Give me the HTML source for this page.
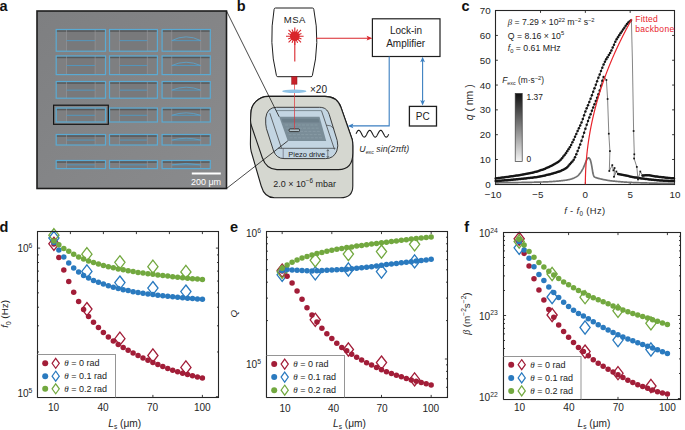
<!DOCTYPE html>
<html><head><meta charset="utf-8"><style>
html,body{margin:0;padding:0;background:#fff;}
svg{display:block;font-family:"Liberation Sans", sans-serif;}
</style></head><body>
<svg width="685" height="430" viewBox="0 0 685 430">
<rect x="0" y="0" width="685" height="430" fill="#fff"/>
<text x="-0.60" y="10.50" font-size="14.5" text-anchor="start" font-weight="bold" font-style="normal" fill="#111" >a</text>
<text x="236.80" y="10.60" font-size="14.5" text-anchor="start" font-weight="bold" font-style="normal" fill="#111" >b</text>
<text x="461.40" y="10.70" font-size="14.5" text-anchor="start" font-weight="bold" font-style="normal" fill="#111" >c</text>
<text x="-0.60" y="231.60" font-size="14.5" text-anchor="start" font-weight="bold" font-style="normal" fill="#111" >d</text>
<text x="230.00" y="231.60" font-size="14.5" text-anchor="start" font-weight="bold" font-style="normal" fill="#111" >e</text>
<text x="464.20" y="231.60" font-size="14.5" text-anchor="start" font-weight="bold" font-style="normal" fill="#111" >f</text>
<defs><linearGradient id="micg" x1="0" y1="0" x2="1" y2="1"><stop offset="0" stop-color="#7e7f81"/><stop offset="0.5" stop-color="#848587"/><stop offset="1" stop-color="#8a8b8d"/></linearGradient><linearGradient id="cbar" x1="0" y1="0" x2="0" y2="1"><stop offset="0" stop-color="#111"/><stop offset="1" stop-color="#f4f4f4"/></linearGradient></defs>
<rect x="37" y="11" width="189.5" height="177.5" fill="url(#micg)" stroke="#1c1c1c" stroke-width="1.6"/>
<rect x="56.2" y="29.5" width="49.3" height="21.7" fill="#7e7f81"/>
<rect x="66.6" y="29.5" width="28.6" height="21.7" fill="#78797b"/>
<rect x="56.2" y="30.2" width="49.3" height="1.6" fill="#4c4d4f" opacity="0.75"/>
<line x1="66.55" y1="29.50" x2="66.55" y2="51.20" stroke="#9a9b9d" stroke-width="0.6" />
<line x1="95.15" y1="29.50" x2="95.15" y2="51.20" stroke="#9a9b9d" stroke-width="0.6" />
<line x1="66.55" y1="40.65" x2="95.15" y2="40.65" stroke="#4f9ac4" stroke-width="0.9" />
<rect x="56.2" y="29.5" width="49.3" height="21.7" fill="none" stroke="#5aaad3" stroke-width="1.2"/>
<rect x="109.5" y="29.5" width="47.9" height="21.7" fill="#7e7f81"/>
<rect x="119.6" y="29.5" width="27.8" height="21.7" fill="#78797b"/>
<rect x="109.5" y="30.2" width="47.9" height="1.6" fill="#4c4d4f" opacity="0.75"/>
<line x1="119.56" y1="29.50" x2="119.56" y2="51.20" stroke="#9a9b9d" stroke-width="0.6" />
<line x1="147.34" y1="29.50" x2="147.34" y2="51.20" stroke="#9a9b9d" stroke-width="0.6" />
<line x1="119.56" y1="40.65" x2="147.34" y2="40.65" stroke="#4f9ac4" stroke-width="0.9" />
<rect x="109.5" y="29.5" width="47.9" height="21.7" fill="none" stroke="#5aaad3" stroke-width="1.2"/>
<rect x="162.1" y="29.5" width="48.2" height="21.7" fill="#7e7f81"/>
<rect x="171.7" y="29.5" width="28.9" height="21.7" fill="#78797b"/>
<rect x="162.1" y="30.2" width="48.2" height="1.6" fill="#4c4d4f" opacity="0.75"/>
<line x1="171.74" y1="29.50" x2="171.74" y2="51.20" stroke="#9a9b9d" stroke-width="0.6" />
<line x1="200.66" y1="29.50" x2="200.66" y2="51.20" stroke="#9a9b9d" stroke-width="0.6" />
<line x1="171.74" y1="40.65" x2="200.66" y2="40.65" stroke="#4f9ac4" stroke-width="0.9" />
<path d="M171.7,40.6 Q186.2,33.1 200.7,40.6" fill="none" stroke="#5aa6cf" stroke-width="0.8"/>
<rect x="162.1" y="29.5" width="48.2" height="21.7" fill="none" stroke="#5aaad3" stroke-width="1.2"/>
<rect x="56.2" y="55.9" width="49.3" height="18.7" fill="#7e7f81"/>
<rect x="66.6" y="55.9" width="28.6" height="18.7" fill="#78797b"/>
<rect x="56.2" y="56.6" width="49.3" height="1.6" fill="#4c4d4f" opacity="0.75"/>
<line x1="66.55" y1="55.90" x2="66.55" y2="74.60" stroke="#9a9b9d" stroke-width="0.6" />
<line x1="95.15" y1="55.90" x2="95.15" y2="74.60" stroke="#9a9b9d" stroke-width="0.6" />
<line x1="66.55" y1="65.55" x2="95.15" y2="65.55" stroke="#4f9ac4" stroke-width="0.9" />
<rect x="56.2" y="55.9" width="49.3" height="18.7" fill="none" stroke="#5aaad3" stroke-width="1.2"/>
<rect x="109.5" y="55.9" width="47.9" height="18.7" fill="#7e7f81"/>
<rect x="119.6" y="55.9" width="27.8" height="18.7" fill="#78797b"/>
<rect x="109.5" y="56.6" width="47.9" height="1.6" fill="#4c4d4f" opacity="0.75"/>
<line x1="119.56" y1="55.90" x2="119.56" y2="74.60" stroke="#9a9b9d" stroke-width="0.6" />
<line x1="147.34" y1="55.90" x2="147.34" y2="74.60" stroke="#9a9b9d" stroke-width="0.6" />
<line x1="119.56" y1="65.55" x2="147.34" y2="65.55" stroke="#4f9ac4" stroke-width="0.9" />
<rect x="109.5" y="55.9" width="47.9" height="18.7" fill="none" stroke="#5aaad3" stroke-width="1.2"/>
<rect x="162.1" y="55.9" width="48.2" height="18.7" fill="#7e7f81"/>
<rect x="171.7" y="55.9" width="28.9" height="18.7" fill="#78797b"/>
<rect x="162.1" y="56.6" width="48.2" height="1.6" fill="#4c4d4f" opacity="0.75"/>
<line x1="171.74" y1="55.90" x2="171.74" y2="74.60" stroke="#9a9b9d" stroke-width="0.6" />
<line x1="200.66" y1="55.90" x2="200.66" y2="74.60" stroke="#9a9b9d" stroke-width="0.6" />
<line x1="171.74" y1="65.55" x2="200.66" y2="65.55" stroke="#4f9ac4" stroke-width="0.9" />
<path d="M171.7,65.5 Q186.2,59.0 200.7,65.5" fill="none" stroke="#5aa6cf" stroke-width="0.8"/>
<rect x="162.1" y="55.9" width="48.2" height="18.7" fill="none" stroke="#5aaad3" stroke-width="1.2"/>
<rect x="56.2" y="81.5" width="49.3" height="16.7" fill="#7e7f81"/>
<rect x="66.6" y="81.5" width="28.6" height="16.7" fill="#78797b"/>
<rect x="56.2" y="82.2" width="49.3" height="1.6" fill="#4c4d4f" opacity="0.75"/>
<line x1="66.55" y1="81.50" x2="66.55" y2="98.20" stroke="#9a9b9d" stroke-width="0.6" />
<line x1="95.15" y1="81.50" x2="95.15" y2="98.20" stroke="#9a9b9d" stroke-width="0.6" />
<line x1="66.55" y1="90.15" x2="95.15" y2="90.15" stroke="#4f9ac4" stroke-width="0.9" />
<rect x="56.2" y="81.5" width="49.3" height="16.7" fill="none" stroke="#5aaad3" stroke-width="1.2"/>
<rect x="109.5" y="81.5" width="47.9" height="16.7" fill="#7e7f81"/>
<rect x="119.6" y="81.5" width="27.8" height="16.7" fill="#78797b"/>
<rect x="109.5" y="82.2" width="47.9" height="1.6" fill="#4c4d4f" opacity="0.75"/>
<line x1="119.56" y1="81.50" x2="119.56" y2="98.20" stroke="#9a9b9d" stroke-width="0.6" />
<line x1="147.34" y1="81.50" x2="147.34" y2="98.20" stroke="#9a9b9d" stroke-width="0.6" />
<line x1="119.56" y1="90.15" x2="147.34" y2="90.15" stroke="#4f9ac4" stroke-width="0.9" />
<rect x="109.5" y="81.5" width="47.9" height="16.7" fill="none" stroke="#5aaad3" stroke-width="1.2"/>
<rect x="162.1" y="81.5" width="48.2" height="16.7" fill="#7e7f81"/>
<rect x="171.7" y="81.5" width="28.9" height="16.7" fill="#78797b"/>
<rect x="162.1" y="82.2" width="48.2" height="1.6" fill="#4c4d4f" opacity="0.75"/>
<line x1="171.74" y1="81.50" x2="171.74" y2="98.20" stroke="#9a9b9d" stroke-width="0.6" />
<line x1="200.66" y1="81.50" x2="200.66" y2="98.20" stroke="#9a9b9d" stroke-width="0.6" />
<line x1="171.74" y1="90.15" x2="200.66" y2="90.15" stroke="#4f9ac4" stroke-width="0.9" />
<path d="M171.7,90.1 Q186.2,84.3 200.7,90.1" fill="none" stroke="#5aa6cf" stroke-width="0.8"/>
<rect x="162.1" y="81.5" width="48.2" height="16.7" fill="none" stroke="#5aaad3" stroke-width="1.2"/>
<rect x="56.2" y="108.0" width="49.3" height="14.0" fill="#7e7f81"/>
<rect x="66.6" y="108.0" width="28.6" height="14.0" fill="#78797b"/>
<rect x="56.2" y="108.7" width="49.3" height="1.6" fill="#4c4d4f" opacity="0.75"/>
<line x1="66.55" y1="108.00" x2="66.55" y2="122.00" stroke="#9a9b9d" stroke-width="0.6" />
<line x1="95.15" y1="108.00" x2="95.15" y2="122.00" stroke="#9a9b9d" stroke-width="0.6" />
<line x1="66.55" y1="115.30" x2="95.15" y2="115.30" stroke="#4f9ac4" stroke-width="0.9" />
<rect x="56.2" y="108.0" width="49.3" height="14.0" fill="none" stroke="#5aaad3" stroke-width="1.2"/>
<rect x="109.5" y="108.0" width="47.9" height="14.0" fill="#7e7f81"/>
<rect x="119.6" y="108.0" width="27.8" height="14.0" fill="#78797b"/>
<rect x="109.5" y="108.7" width="47.9" height="1.6" fill="#4c4d4f" opacity="0.75"/>
<line x1="119.56" y1="108.00" x2="119.56" y2="122.00" stroke="#9a9b9d" stroke-width="0.6" />
<line x1="147.34" y1="108.00" x2="147.34" y2="122.00" stroke="#9a9b9d" stroke-width="0.6" />
<line x1="119.56" y1="115.30" x2="147.34" y2="115.30" stroke="#4f9ac4" stroke-width="0.9" />
<rect x="109.5" y="108.0" width="47.9" height="14.0" fill="none" stroke="#5aaad3" stroke-width="1.2"/>
<rect x="162.1" y="108.0" width="48.2" height="14.0" fill="#7e7f81"/>
<rect x="171.7" y="108.0" width="28.9" height="14.0" fill="#78797b"/>
<rect x="162.1" y="108.7" width="48.2" height="1.6" fill="#4c4d4f" opacity="0.75"/>
<line x1="171.74" y1="108.00" x2="171.74" y2="122.00" stroke="#9a9b9d" stroke-width="0.6" />
<line x1="200.66" y1="108.00" x2="200.66" y2="122.00" stroke="#9a9b9d" stroke-width="0.6" />
<line x1="171.74" y1="115.30" x2="200.66" y2="115.30" stroke="#4f9ac4" stroke-width="0.9" />
<path d="M171.7,115.3 Q186.2,110.4 200.7,115.3" fill="none" stroke="#5aa6cf" stroke-width="0.8"/>
<rect x="162.1" y="108.0" width="48.2" height="14.0" fill="none" stroke="#5aaad3" stroke-width="1.2"/>
<rect x="56.2" y="134.5" width="49.3" height="10.5" fill="#7e7f81"/>
<rect x="66.6" y="134.5" width="28.6" height="10.5" fill="#78797b"/>
<rect x="56.2" y="135.2" width="49.3" height="1.6" fill="#4c4d4f" opacity="0.75"/>
<line x1="66.55" y1="134.50" x2="66.55" y2="145.00" stroke="#9a9b9d" stroke-width="0.6" />
<line x1="95.15" y1="134.50" x2="95.15" y2="145.00" stroke="#9a9b9d" stroke-width="0.6" />
<line x1="66.55" y1="140.05" x2="95.15" y2="140.05" stroke="#4f9ac4" stroke-width="0.9" />
<rect x="56.2" y="134.5" width="49.3" height="10.5" fill="none" stroke="#5aaad3" stroke-width="1.2"/>
<rect x="109.5" y="134.5" width="47.9" height="10.5" fill="#7e7f81"/>
<rect x="119.6" y="134.5" width="27.8" height="10.5" fill="#78797b"/>
<rect x="109.5" y="135.2" width="47.9" height="1.6" fill="#4c4d4f" opacity="0.75"/>
<line x1="119.56" y1="134.50" x2="119.56" y2="145.00" stroke="#9a9b9d" stroke-width="0.6" />
<line x1="147.34" y1="134.50" x2="147.34" y2="145.00" stroke="#9a9b9d" stroke-width="0.6" />
<line x1="119.56" y1="140.05" x2="147.34" y2="140.05" stroke="#4f9ac4" stroke-width="0.9" />
<rect x="109.5" y="134.5" width="47.9" height="10.5" fill="none" stroke="#5aaad3" stroke-width="1.2"/>
<rect x="162.1" y="134.5" width="48.2" height="10.5" fill="#7e7f81"/>
<rect x="171.7" y="134.5" width="28.9" height="10.5" fill="#78797b"/>
<rect x="162.1" y="135.2" width="48.2" height="1.6" fill="#4c4d4f" opacity="0.75"/>
<line x1="171.74" y1="134.50" x2="171.74" y2="145.00" stroke="#9a9b9d" stroke-width="0.6" />
<line x1="200.66" y1="134.50" x2="200.66" y2="145.00" stroke="#9a9b9d" stroke-width="0.6" />
<line x1="171.74" y1="140.05" x2="200.66" y2="140.05" stroke="#4f9ac4" stroke-width="0.9" />
<path d="M171.7,140.1 Q186.2,136.4 200.7,140.1" fill="none" stroke="#5aa6cf" stroke-width="0.8"/>
<rect x="162.1" y="134.5" width="48.2" height="10.5" fill="none" stroke="#5aaad3" stroke-width="1.2"/>
<rect x="56.2" y="160.5" width="49.3" height="8.1" fill="#7e7f81"/>
<rect x="66.6" y="160.5" width="28.6" height="8.1" fill="#78797b"/>
<rect x="56.2" y="161.2" width="49.3" height="1.6" fill="#4c4d4f" opacity="0.75"/>
<line x1="66.55" y1="160.50" x2="66.55" y2="168.60" stroke="#9a9b9d" stroke-width="0.6" />
<line x1="95.15" y1="160.50" x2="95.15" y2="168.60" stroke="#9a9b9d" stroke-width="0.6" />
<line x1="66.55" y1="164.85" x2="95.15" y2="164.85" stroke="#4f9ac4" stroke-width="0.9" />
<rect x="56.2" y="160.5" width="49.3" height="8.1" fill="none" stroke="#5aaad3" stroke-width="1.2"/>
<rect x="109.5" y="160.5" width="47.9" height="8.1" fill="#7e7f81"/>
<rect x="119.6" y="160.5" width="27.8" height="8.1" fill="#78797b"/>
<rect x="109.5" y="161.2" width="47.9" height="1.6" fill="#4c4d4f" opacity="0.75"/>
<line x1="119.56" y1="160.50" x2="119.56" y2="168.60" stroke="#9a9b9d" stroke-width="0.6" />
<line x1="147.34" y1="160.50" x2="147.34" y2="168.60" stroke="#9a9b9d" stroke-width="0.6" />
<line x1="119.56" y1="164.85" x2="147.34" y2="164.85" stroke="#4f9ac4" stroke-width="0.9" />
<rect x="109.5" y="160.5" width="47.9" height="8.1" fill="none" stroke="#5aaad3" stroke-width="1.2"/>
<rect x="162.1" y="160.5" width="48.2" height="8.1" fill="#7e7f81"/>
<rect x="171.7" y="160.5" width="28.9" height="8.1" fill="#78797b"/>
<rect x="162.1" y="161.2" width="48.2" height="1.6" fill="#4c4d4f" opacity="0.75"/>
<line x1="171.74" y1="160.50" x2="171.74" y2="168.60" stroke="#9a9b9d" stroke-width="0.6" />
<line x1="200.66" y1="160.50" x2="200.66" y2="168.60" stroke="#9a9b9d" stroke-width="0.6" />
<line x1="171.74" y1="164.85" x2="200.66" y2="164.85" stroke="#4f9ac4" stroke-width="0.9" />
<path d="M171.7,164.9 Q186.2,162.0 200.7,164.9" fill="none" stroke="#5aa6cf" stroke-width="0.8"/>
<rect x="162.1" y="160.5" width="48.2" height="8.1" fill="none" stroke="#5aaad3" stroke-width="1.2"/>
<rect x="53.6" y="105.2" width="54.7" height="19.1" fill="none" stroke="#151515" stroke-width="1.2"/>
<rect x="191.8" y="172.5" width="29" height="2" fill="#fff"/>
<text x="206.00" y="184.80" font-size="9" text-anchor="middle" font-weight="normal" font-style="normal" fill="#fff" >200 &#956;m</text>
<path d="M268.3,96.4 L324.8,96.4 C331.5,96.4 338.2,99.5 341,107.5 L352.2,139.5 Q352.8,142 352.8,146 L352.8,186 Q352.8,197.8 340.5,197.8 L274.5,197.8 Q264.5,197.8 261.2,186 L251.2,151.5 Q250.4,148.5 250.4,144 L250.9,113.5 C250.9,104.2 258.8,96.4 268.3,96.4 Z" fill="#d5d7d0" stroke="#1e1e1e" stroke-width="1.1"/>
<path d="M268.3,96.4 L324.8,96.4 C331.5,96.4 338.2,99.5 341,107.5 L352.2,139.5 Q352.8,142 352.8,146 L352.8,153 Q352.8,169.6 338.5,169.6 L277,169.6 Q266.5,169.6 262.3,157.8 L251.5,126 Q250.6,123.5 250.5,120 L250.9,113.5 C250.9,104.2 258.8,96.4 268.3,96.4 Z" fill="#d5d7d0" stroke="#1e1e1e" stroke-width="1.1"/>
<path d="M276.5,107.3 L319.5,107.3 C324.5,107.3 327.5,109.5 329.2,114.4 L337.2,140.5 Q338.6,146 336.8,151 Q333.8,158.6 325.5,158.6 L284,158.6 Q276.5,158.6 273.6,151 L266.4,128.5 Q265.4,124.5 265.7,118 Q267,107.3 276.5,107.3 Z" fill="#c3d5e2" stroke="#2a2a2a" stroke-width="0.9"/>
<line x1="276.00" y1="110.60" x2="321.50" y2="110.60" stroke="#5d6a72" stroke-width="0.7" />
<line x1="269.80" y1="113.20" x2="281.50" y2="148.30" stroke="#333" stroke-width="0.7" />
<line x1="321.50" y1="110.80" x2="334.50" y2="149.50" stroke="#333" stroke-width="0.7" />
<path d="M279.2,116.8 L319.5,116.8 L326.2,140.9 L287.8,140.9 Z" fill="#7a8d98"/>
<path d="M281.5,118.8 L318.5,118.8 L319.6,122.5 L282.8,122.5 Z" fill="#6c7f8a"/>
<line x1="285.13" y1="125.00" x2="318.78" y2="125.00" stroke="#8fa1ab" stroke-width="0.6" stroke-dasharray="3,1.2"/>
<line x1="286.27" y1="128.20" x2="319.67" y2="128.20" stroke="#8fa1ab" stroke-width="0.6" stroke-dasharray="3,1.2"/>
<line x1="287.41" y1="131.40" x2="320.56" y2="131.40" stroke="#8fa1ab" stroke-width="0.6" stroke-dasharray="3,1.2"/>
<line x1="288.55" y1="134.60" x2="321.45" y2="134.60" stroke="#8fa1ab" stroke-width="0.6" stroke-dasharray="3,1.2"/>
<line x1="289.69" y1="137.80" x2="322.34" y2="137.80" stroke="#8fa1ab" stroke-width="0.6" stroke-dasharray="3,1.2"/>
<line x1="278.20" y1="148.30" x2="335.50" y2="148.30" stroke="#333" stroke-width="0.7" />
<line x1="283.20" y1="148.30" x2="283.20" y2="158.40" stroke="#556" stroke-width="0.6" />
<text x="306.70" y="156.60" font-size="7.45" text-anchor="middle" font-weight="normal" font-style="normal" fill="#222" >Piezo drive</text>
<line x1="327.80" y1="149.80" x2="327.80" y2="157.40" stroke="#333" stroke-width="0.55" />
<path d="M326.6,151.2 L327.8,149.6 L329,151.2 M326.6,156 L327.8,157.6 L329,156" fill="none" stroke="#333" stroke-width="0.55"/>
<path d="M326.5,125.2 Q331,124.8 334.2,128.8" fill="none" stroke="#333" stroke-width="0.6"/>
<rect x="289.1" y="128.9" width="10.4" height="2.7" rx="1" fill="#b2c2ca" stroke="#1e1e1e" stroke-width="0.8"/>
<line x1="294.50" y1="84.20" x2="294.50" y2="129.20" stroke="#e0343a" stroke-width="0.7" />
<line x1="226.50" y1="11.00" x2="279.20" y2="116.80" stroke="#1a1a1a" stroke-width="0.8" />
<line x1="226.50" y1="188.50" x2="287.80" y2="140.90" stroke="#1a1a1a" stroke-width="0.8" />
<ellipse cx="294.3" cy="91.3" rx="12.2" ry="1.7" fill="#8fc3e6"/>
<text x="309.90" y="93.30" font-size="10.1" text-anchor="start" font-weight="normal" font-style="normal" fill="#222" >&#215;20</text>
<text x="304.60" y="186.50" font-size="8.95" text-anchor="middle" font-weight="normal" font-style="normal" fill="#222" >2.0 &#215; 10<tspan dy="-3.5" font-size="6.3">&#8722;6</tspan><tspan dy="3.5"> mbar</tspan></text>
<path d="M275.5,8 L312.4,8 Q313.6,8 313.8,9.3 Q320.5,42.5 312.4,75.4 Q312.2,76.7 311,76.7 L277.8,76.7 Q276.6,76.7 276.4,75.4 Q268.5,42.5 274.1,9.3 Q274.3,8 275.5,8 Z" fill="#fff" stroke="#1e1e1e" stroke-width="1"/>
<text x="294.80" y="23.20" font-size="9.6" text-anchor="middle" font-weight="normal" font-style="normal" fill="#222" letter-spacing="0.5">MSA</text>
<path d="M298.00,36.20 L303.60,36.20 M297.76,37.42 L301.45,38.96 M297.06,38.46 L301.02,42.42 M296.02,39.16 L297.56,42.85 M294.80,39.40 L294.80,45.00 M293.58,39.16 L292.04,42.85 M292.54,38.46 L288.58,42.42 M291.84,37.42 L288.15,38.96 M291.60,36.20 L286.00,36.20 M291.84,34.98 L288.15,33.44 M292.54,33.94 L288.58,29.98 M293.58,33.24 L292.04,29.55 M294.80,33.00 L294.80,27.40 M296.02,33.24 L297.56,29.55 M297.06,33.94 L301.02,29.98 M297.76,34.98 L301.45,33.44" stroke="#d9252b" stroke-width="1.1" fill="none"/>
<circle cx="294.8" cy="36.2" r="4.8" fill="#d9252b"/>
<line x1="294.80" y1="36.20" x2="294.80" y2="61.60" stroke="#d9252b" stroke-width="1.1" />
<rect x="291.7" y="76.7" width="5.3" height="7.5" fill="#c8222b" stroke="#8a1015" stroke-width="0.5"/>
<line x1="316.20" y1="38.20" x2="368.50" y2="38.20" stroke="#d9252b" stroke-width="1.1" />
<path d="M372.4,38.2 L366.6,35.8 L367.8,38.2 L366.6,40.6 Z" fill="#d9252b"/>
<rect x="372.4" y="18.8" width="67.6" height="37.7" fill="#fff" stroke="#1e1e1e" stroke-width="1.2"/>
<text x="406.00" y="33.90" font-size="10" text-anchor="middle" font-weight="normal" font-style="normal" fill="#222" >Lock-in</text>
<text x="405.60" y="46.90" font-size="10" text-anchor="middle" font-weight="normal" font-style="normal" fill="#222" >Amplifier</text>
<rect x="409.4" y="106.4" width="27.1" height="19.6" fill="#fff" stroke="#1e1e1e" stroke-width="1.3"/>
<text x="422.70" y="120.00" font-size="10" text-anchor="middle" font-weight="normal" font-style="normal" fill="#222" >PC</text>
<path d="M389.2,56.5 L389.2,125.9 L351.5,125.9" fill="none" stroke="#3b7fc1" stroke-width="1.1"/>
<path d="M347.6,125.9 L353.4,123.5 L352.2,125.9 L353.4,128.3 Z" fill="#3b7fc1"/>
<line x1="422.60" y1="60.50" x2="422.60" y2="101.80" stroke="#3b7fc1" stroke-width="1.1" />
<path d="M422.6,56.7 L420.2,62.3 L422.6,61.1 L425,62.3 Z M422.6,105.6 L420.2,100 L422.6,101.2 L425,100 Z" fill="#3b7fc1"/>
<polyline points="356.00,133.70 356.27,133.17 356.55,132.66 356.82,132.17 357.09,131.72 357.36,131.31 357.63,130.97 357.91,130.69 358.18,130.48 358.45,130.35 358.73,130.30 359.00,130.33 359.27,130.45 359.54,130.64 359.81,130.91 360.09,131.24 360.36,131.64 360.63,132.08 360.90,132.57 361.18,133.08 361.45,133.60 361.72,134.13 362.00,134.65 362.27,135.14 362.54,135.60 362.81,136.02 363.08,136.37 363.36,136.67 363.63,136.89 363.90,137.03 364.18,137.10 364.45,137.08 364.72,136.98 364.99,136.80 365.26,136.54 365.54,136.22 365.81,135.84 366.08,135.40 366.36,134.92 366.63,134.42 366.90,133.89 367.17,133.37 367.44,132.85 367.72,132.35 367.99,131.88 368.26,131.46 368.53,131.09 368.81,130.78 369.08,130.55 369.35,130.39 369.62,130.31 369.90,130.31 370.17,130.40 370.44,130.56 370.71,130.80 370.99,131.11 371.26,131.49 371.53,131.92 371.81,132.39 372.08,132.89 372.35,133.41 372.62,133.94 372.89,134.46 373.17,134.97 373.44,135.44 373.71,135.87 373.99,136.25 374.26,136.57 374.53,136.82 374.80,136.99 375.07,137.08 375.35,137.09 375.62,137.02 375.89,136.87 376.17,136.65 376.44,136.35 376.71,135.98 376.98,135.57 377.25,135.10 377.53,134.61 377.80,134.09 378.07,133.56 378.34,133.03 378.62,132.53 378.89,132.05 379.16,131.60 379.44,131.21 379.71,130.89 379.98,130.62 380.25,130.44 380.52,130.33 380.80,130.30 381.07,130.36 381.34,130.49 381.62,130.71 381.89,130.99 382.16,131.34 382.43,131.75 382.70,132.21 382.98,132.70 383.25,133.22 383.52,133.74 383.80,134.27 384.07,134.78 384.34,135.27 384.61,135.72 384.88,136.12 385.16,136.46 385.43,136.73 385.70,136.94 385.97,137.06 386.25,137.10 386.52,137.06 386.79,136.94 387.06,136.74 387.34,136.46 387.61,136.12 387.88,135.73 388.15,135.28 388.43,134.79 388.70,134.28" fill="none" stroke="#1a1a1a" stroke-width="1.1"/>
<text x="359.30" y="152.30" font-size="8.8" text-anchor="start" font-weight="normal" font-style="italic" fill="#2a2a2a" >U<tspan font-size="5.3" dy="2">exc</tspan><tspan dy="-2"> sin(2&#960;ft)</tspan></text>
<rect x="495.5" y="10.5" width="179.00" height="174.00" fill="none" stroke="#262626" stroke-width="1.1"/>
<path d="M495.5,159.49 h2.4 M674.5,159.49 h-2.4 M495.5,134.68 h2.4 M674.5,134.68 h-2.4 M495.5,109.87 h2.4 M674.5,109.87 h-2.4 M495.5,85.06 h2.4 M674.5,85.06 h-2.4 M495.5,60.25 h2.4 M674.5,60.25 h-2.4 M495.5,35.44 h2.4 M674.5,35.44 h-2.4 M540.52,184.5 v-2.4 M540.52,10.5 v2.4 M585.35,184.5 v-2.4 M585.35,10.5 v2.4 M630.18,184.5 v-2.4 M630.18,10.5 v2.4" stroke="#262626" stroke-width="0.9" fill="none"/>
<text x="490.60" y="187.80" font-size="9.8" text-anchor="end" font-weight="normal" font-style="normal" fill="#262626" >0</text>
<text x="490.60" y="162.99" font-size="9.8" text-anchor="end" font-weight="normal" font-style="normal" fill="#262626" >10</text>
<text x="490.60" y="138.18" font-size="9.8" text-anchor="end" font-weight="normal" font-style="normal" fill="#262626" >20</text>
<text x="490.60" y="113.37" font-size="9.8" text-anchor="end" font-weight="normal" font-style="normal" fill="#262626" >30</text>
<text x="490.60" y="88.56" font-size="9.8" text-anchor="end" font-weight="normal" font-style="normal" fill="#262626" >40</text>
<text x="490.60" y="63.75" font-size="9.8" text-anchor="end" font-weight="normal" font-style="normal" fill="#262626" >50</text>
<text x="490.60" y="38.94" font-size="9.8" text-anchor="end" font-weight="normal" font-style="normal" fill="#262626" >60</text>
<text x="490.60" y="14.13" font-size="9.8" text-anchor="end" font-weight="normal" font-style="normal" fill="#262626" >70</text>
<text x="493.10" y="198.30" font-size="9.8" text-anchor="middle" font-weight="normal" font-style="normal" fill="#262626" >&#8722;10</text>
<text x="537.92" y="198.30" font-size="9.8" text-anchor="middle" font-weight="normal" font-style="normal" fill="#262626" >&#8722;5</text>
<text x="585.35" y="198.30" font-size="9.8" text-anchor="middle" font-weight="normal" font-style="normal" fill="#262626" >0</text>
<text x="630.18" y="198.30" font-size="9.8" text-anchor="middle" font-weight="normal" font-style="normal" fill="#262626" >5</text>
<text x="675.00" y="198.30" font-size="9.8" text-anchor="middle" font-weight="normal" font-style="normal" fill="#262626" >10</text>
<text x="584.80" y="214.20" font-size="9.4" text-anchor="middle" font-weight="normal" font-style="normal" fill="#262626" letter-spacing="0.35"><tspan font-style="italic">f</tspan> - <tspan font-style="italic">f</tspan><tspan font-size="6.3" dy="2">0</tspan><tspan dy="-2"> (Hz)</tspan></text>
<text x="0.00" y="0.00" font-size="10.4" text-anchor="middle" font-weight="normal" font-style="normal" fill="#262626" transform="translate(472.6,102.3) rotate(-90)"><tspan font-style="italic">q</tspan> ( nm )</text>
<polyline points="495.70,182.80 496.15,182.80 496.60,182.79 497.04,182.79 497.49,182.79 497.94,182.78 498.39,182.78 498.83,182.78 499.28,182.77 499.73,182.77 500.18,182.77 500.62,182.76 501.07,182.76 501.52,182.75 501.97,182.75 502.41,182.74 502.86,182.74 503.31,182.73 503.76,182.73 504.20,182.72 504.65,182.72 505.10,182.71 505.55,182.71 506.00,182.70 506.44,182.70 506.89,182.69 507.34,182.69 507.79,182.68 508.23,182.68 508.68,182.67 509.13,182.66 509.58,182.66 510.02,182.65 510.47,182.65 510.92,182.64 511.37,182.63 511.81,182.63 512.26,182.62 512.71,182.61 513.16,182.61 513.60,182.60 514.05,182.59 514.50,182.59 514.95,182.58 515.40,182.57 515.84,182.57 516.29,182.56 516.74,182.55 517.19,182.55 517.63,182.54 518.08,182.53 518.53,182.52 518.98,182.52 519.42,182.51 519.87,182.50 520.32,182.49 520.77,182.49 521.21,182.48 521.66,182.47 522.11,182.46 522.56,182.46 523.00,182.45 523.45,182.44 523.90,182.43 524.35,182.43 524.80,182.42 525.24,182.41 525.69,182.40 526.14,182.39 526.59,182.38 527.03,182.38 527.48,182.37 527.93,182.36 528.38,182.35 528.82,182.34 529.27,182.33 529.72,182.32 530.17,182.31 530.61,182.30 531.06,182.29 531.51,182.29 531.96,182.28 532.40,182.27 532.85,182.25 533.30,182.24 533.75,182.23 534.20,182.22 534.64,182.21 535.09,182.20 535.54,182.19 535.99,182.18 536.43,182.17 536.88,182.16 537.33,182.14 537.78,182.13 538.22,182.12 538.67,182.11 539.12,182.09 539.57,182.08 540.01,182.07 540.46,182.05 540.91,182.04 541.36,182.02 541.80,182.01 542.25,182.00 542.70,181.98 543.15,181.97 543.60,181.95 544.04,181.93 544.49,181.92 544.94,181.90 545.39,181.89 545.83,181.87 546.28,181.85 546.73,181.83 547.18,181.82 547.62,181.80 548.07,181.78 548.52,181.76 548.97,181.74 549.41,181.72 549.86,181.69 550.31,181.67 550.76,181.64 551.20,181.61 551.65,181.58 552.10,181.55 552.55,181.52 553.00,181.49 553.44,181.45 553.89,181.42 554.34,181.38 554.79,181.35 555.23,181.31 555.68,181.27 556.13,181.23 556.58,181.19 557.02,181.15 557.47,181.11 557.92,181.07 558.37,181.03 558.81,180.99 559.26,180.94 559.71,180.90 560.16,180.85 560.60,180.81 561.05,180.76 561.50,180.72 561.95,180.67 562.40,180.62 562.84,180.57 563.29,180.52 563.74,180.46 564.19,180.40 564.63,180.34 565.08,180.28 565.53,180.22 565.98,180.15 566.42,180.08 566.87,180.00 567.32,179.92 567.77,179.84 568.21,179.76 568.66,179.67 569.11,179.57 569.56,179.46 570.00,179.35 570.45,179.23 570.90,179.10 571.35,178.96 571.80,178.82 572.24,178.67 572.69,178.52 573.14,178.35 573.59,178.18 574.03,178.01 574.48,177.81 574.93,177.60 575.38,177.37 575.82,177.12 576.27,176.85 576.72,176.56 577.17,176.25 577.61,175.91 578.06,175.53 578.51,175.09 578.96,174.60 579.40,174.07 579.85,173.51 580.30,172.93 580.75,172.32 581.20,171.65 581.64,170.94 582.09,170.17 582.54,169.37 582.99,168.53 583.43,167.62 583.88,166.62 584.33,165.56 584.78,164.49 585.22,163.44 585.67,162.32 586.12,161.14 586.57,160.08 587.01,159.28 587.46,158.65 587.91,158.12 588.36,157.82 588.80,157.87 589.25,158.19 589.70,158.68 590.15,159.46 590.60,160.80 591.04,162.46 591.49,164.68 591.94,167.16 592.39,169.95 592.83,172.76 593.28,174.48 593.73,175.81 594.18,176.67 594.62,177.03 595.07,177.26 595.52,177.43 595.97,177.59 596.41,177.76 596.86,177.92 597.31,178.07 597.76,178.21 598.20,178.33 598.65,178.44 599.10,178.56 599.55,178.67 600.00,178.78 600.44,178.89 600.89,178.99 601.34,179.10 601.79,179.20 602.23,179.30 602.68,179.40 603.13,179.49 603.58,179.59 604.02,179.68 604.47,179.77 604.92,179.86 605.37,179.94 605.81,180.03 606.26,180.11 606.71,180.19 607.16,180.26 607.60,180.34 608.05,180.41 608.50,180.48 608.95,180.55 609.40,180.61 609.84,180.67 610.29,180.73 610.74,180.79 611.19,180.84 611.63,180.89 612.08,180.94 612.53,180.99 612.98,181.04 613.42,181.09 613.87,181.13 614.32,181.18 614.77,181.22 615.21,181.27 615.66,181.31 616.11,181.36 616.56,181.40 617.00,181.44 617.45,181.48 617.90,181.52 618.35,181.56 618.80,181.60 619.24,181.64 619.69,181.68 620.14,181.72 620.59,181.76 621.03,181.79 621.48,181.83 621.93,181.86 622.38,181.90 622.82,181.93 623.27,181.97 623.72,182.00 624.17,182.03 624.61,182.06 625.06,182.09 625.51,182.12 625.96,182.15 626.40,182.18 626.85,182.21 627.30,182.24 627.75,182.26 628.20,182.29 628.64,182.32 629.09,182.34 629.54,182.36 629.99,182.39 630.43,182.41 630.88,182.43 631.33,182.45 631.78,182.47 632.22,182.49 632.67,182.51 633.12,182.53 633.57,182.55 634.01,182.57 634.46,182.58 634.91,182.60 635.36,182.61 635.80,182.63 636.25,182.64 636.70,182.66 637.15,182.67 637.60,182.69 638.04,182.70 638.49,182.71 638.94,182.73 639.39,182.74 639.83,182.76 640.28,182.77 640.73,182.79 641.18,182.80 641.62,182.81 642.07,182.83 642.52,182.84 642.97,182.85 643.41,182.87 643.86,182.88 644.31,182.89 644.76,182.91 645.20,182.92 645.65,182.93 646.10,182.95 646.55,182.96 647.00,182.97 647.44,182.98 647.89,183.00 648.34,183.01 648.79,183.02 649.23,183.03 649.68,183.04 650.13,183.06 650.58,183.07 651.02,183.08 651.47,183.09 651.92,183.10 652.37,183.11 652.81,183.12 653.26,183.13 653.71,183.14 654.16,183.15 654.60,183.16 655.05,183.17 655.50,183.18 655.95,183.19 656.40,183.20 656.84,183.21 657.29,183.22 657.74,183.23 658.19,183.24 658.63,183.25 659.08,183.25 659.53,183.26 659.98,183.27 660.42,183.28 660.87,183.28 661.32,183.29 661.77,183.30 662.21,183.31 662.66,183.31 663.11,183.32 663.56,183.32 664.00,183.33 664.45,183.34 664.90,183.34 665.35,183.35 665.80,183.35 666.24,183.36 666.69,183.36 667.14,183.37 667.59,183.37 668.03,183.37 668.48,183.38 668.93,183.38 669.38,183.38 669.82,183.39 670.27,183.39 670.72,183.39 671.17,183.39 671.61,183.40 672.06,183.40 672.51,183.40 672.96,183.40 673.40,183.40 673.85,183.40 674.30,183.40" fill="none" stroke="#727272" stroke-width="1.7"/>
<polyline points="495.70,181.00 495.97,180.98 496.24,180.97 496.51,180.95 496.78,180.93 497.05,180.92 497.32,180.90 497.59,180.88 497.86,180.86 498.13,180.85 498.40,180.83 498.67,180.81 498.95,180.79 499.22,180.78 499.49,180.76 499.76,180.74 500.03,180.72 500.30,180.70 500.57,180.68 500.84,180.66 501.11,180.64 501.38,180.62 501.65,180.60 501.92,180.58 502.19,180.57 502.46,180.55 502.73,180.52 503.00,180.50 503.27,180.48 503.54,180.46 503.81,180.44 504.08,180.42 504.35,180.40 504.62,180.38 504.89,180.36 505.16,180.34 505.44,180.32 505.71,180.30 505.98,180.27 506.25,180.25 506.52,180.23 506.79,180.21 507.06,180.19 507.33,180.16 507.60,180.14 507.87,180.12 508.14,180.10 508.41,180.07 508.68,180.05 508.95,180.03 509.22,180.00 509.49,179.98 509.76,179.96 510.03,179.93 510.30,179.91 510.57,179.88 510.84,179.86 511.11,179.83 511.38,179.81 511.66,179.78 511.93,179.76 512.20,179.73 512.47,179.70 512.74,179.68 513.01,179.65 513.28,179.62 513.55,179.60 513.82,179.57 514.09,179.54 514.36,179.52 514.63,179.49 514.90,179.46 515.17,179.43 515.44,179.41 515.71,179.38 515.98,179.35 516.25,179.32 516.52,179.29 516.79,179.27 517.06,179.24 517.33,179.21 517.60,179.18 517.87,179.15 518.15,179.13 518.42,179.10 518.69,179.07 518.96,179.04 519.23,179.01 519.50,178.99 519.77,178.96 520.04,178.93 520.31,178.90 520.58,178.87 520.85,178.85 521.12,178.82 521.39,178.79 521.66,178.76 521.93,178.74 522.20,178.71 522.47,178.68 522.74,178.66 523.01,178.63 523.28,178.60 523.55,178.58 523.82,178.55 524.09,178.52 524.37,178.50 524.64,178.47 524.91,178.45 525.18,178.42 525.45,178.39 525.72,178.37 525.99,178.34 526.26,178.32 526.53,178.29 526.80,178.26 527.07,178.24 527.34,178.21 527.61,178.18 527.88,178.16 528.15,178.13 528.42,178.10 528.69,178.07 528.96,178.05 529.23,178.02 529.50,177.99 529.77,177.96 530.04,177.93 530.31,177.90 530.58,177.87 530.86,177.84 531.13,177.81 531.40,177.78 531.67,177.75 531.94,177.72 532.21,177.68 532.48,177.65 532.75,177.62 533.02,177.58 533.29,177.55 533.56,177.51 533.83,177.48 534.10,177.44 534.37,177.40 534.64,177.37 534.91,177.33 535.18,177.29 535.45,177.25 535.72,177.21 535.99,177.16 536.26,177.12 536.53,177.08 536.80,177.03 537.08,176.99 537.35,176.94 537.62,176.90 537.89,176.85 538.16,176.80 538.43,176.75 538.70,176.71 538.97,176.66 539.24,176.61 539.51,176.55 539.78,176.50 540.05,176.45 540.32,176.40 540.59,176.34 540.86,176.29 541.13,176.24 541.40,176.18 541.67,176.13 541.94,176.07 542.21,176.01 542.48,175.96 542.75,175.90 543.02,175.84 543.29,175.78 543.57,175.72 543.84,175.66 544.11,175.60 544.38,175.54 544.65,175.48 544.92,175.42 545.19,175.36 545.46,175.30 545.73,175.24 546.00,175.17 546.27,175.11 546.54,175.05 546.81,174.99 547.08,174.92 547.35,174.86 547.62,174.79 547.89,174.73 548.16,174.67 548.43,174.60 548.70,174.54 548.97,174.47 549.24,174.40 549.51,174.34 549.79,174.27 550.06,174.20 550.33,174.13 550.60,174.06 550.87,174.00 551.14,173.93 551.41,173.86 551.68,173.78 551.95,173.71 552.22,173.64 552.49,173.57 552.76,173.49 553.03,173.42 553.30,173.34 553.57,173.27 553.84,173.19 554.11,173.11 554.38,173.03 554.65,172.95 554.92,172.87 555.19,172.79 555.46,172.71 555.73,172.63 556.01,172.54 556.28,172.46 556.55,172.37 556.82,172.28 557.09,172.19 557.36,172.11 557.63,172.01 557.90,171.92 558.17,171.83 558.44,171.74 558.71,171.64 558.98,171.54 559.25,171.45 559.52,171.35 559.79,171.25 560.06,171.15 560.33,171.04 560.60,170.94 560.87,170.83 561.14,170.72 561.41,170.62 561.68,170.50 561.95,170.39 562.22,170.27 562.50,170.15 562.77,170.03 563.04,169.90 563.31,169.77 563.58,169.64 563.85,169.50 564.12,169.35 564.39,169.20 564.66,169.05 564.93,168.89 565.20,168.72 565.47,168.55 565.74,168.38 566.01,168.19 566.28,167.99 566.55,167.78 566.82,167.54 567.09,167.29 567.36,167.03 567.63,166.75 567.90,166.47 568.17,166.17 568.44,165.87 568.72,165.56 568.99,165.25 569.26,164.93 569.53,164.62 569.80,164.30 570.07,163.99 570.34,163.68 570.61,163.38 570.88,163.09 571.15,162.80 571.42,162.51 571.69,162.23 571.96,161.94 572.23,161.64 572.50,161.33 572.77,161.01 573.04,160.67 573.31,160.31 573.58,159.93 573.85,159.52 574.12,159.06 574.39,158.56 574.66,158.01 574.93,157.43 575.21,156.82 575.48,156.19 575.75,155.54 576.02,154.89 576.29,154.24 576.56,153.60 576.83,152.96 577.10,152.32 577.37,151.67 577.64,151.01 577.91,150.34 578.18,149.67 578.45,148.98 578.72,148.29 578.99,147.59 579.26,146.89 579.53,146.17 579.80,145.45 580.07,144.72 580.34,143.98 580.61,143.24 580.88,142.48 581.15,141.71 581.43,140.92 581.70,140.12 581.97,139.30 582.24,138.48 582.51,137.64 582.78,136.81 583.05,135.97 583.32,135.12 583.59,134.29 583.86,133.45 584.13,132.62 584.40,131.80 584.67,130.99 584.94,130.17 585.21,129.35 585.48,128.53 585.75,127.71 586.02,126.89 586.29,126.07 586.56,125.26 586.83,124.45 587.10,123.65 587.37,122.86 587.64,122.07 587.92,121.30 588.19,120.54 588.46,119.79 588.73,119.05 589.00,118.32 589.27,117.60 589.54,116.89 589.81,116.18 590.08,115.47 590.35,114.78 590.62,114.08 590.89,113.39 591.16,112.69 591.43,112.00 591.70,111.31 591.97,110.62 592.24,109.93 592.51,109.25 592.78,108.57 593.05,107.90 593.32,107.23 593.59,106.57 593.86,105.91 594.14,105.24 594.41,104.58 594.68,103.91 594.95,103.24 595.22,102.57 595.49,101.89 595.76,101.20 596.03,100.50 596.30,99.80 596.57,99.08 596.84,98.36 597.11,97.65 597.38,96.94 597.65,96.22 597.92,95.50 598.19,94.77 598.46,94.04 598.73,93.29 599.00,92.52 599.27,91.73 599.54,90.92 599.81,90.08 600.08,89.21 600.35,88.31 600.63,87.32 600.90,86.23 601.17,85.09 601.44,83.94 601.71,82.82 601.98,81.78 602.25,80.84 602.52,79.98 602.79,79.17 603.06,78.40 603.33,77.67 603.60,77.00" fill="none" stroke="#151515" stroke-width="0.7"/>
<g fill="#151515"><circle cx="495.70" cy="181.00" r="1.25"/><circle cx="497.00" cy="180.92" r="1.25"/><circle cx="498.30" cy="180.84" r="1.25"/><circle cx="499.60" cy="180.75" r="1.25"/><circle cx="500.90" cy="180.66" r="1.25"/><circle cx="502.20" cy="180.56" r="1.25"/><circle cx="503.50" cy="180.47" r="1.25"/><circle cx="504.80" cy="180.37" r="1.25"/><circle cx="506.10" cy="180.26" r="1.25"/><circle cx="507.40" cy="180.16" r="1.25"/><circle cx="508.70" cy="180.05" r="1.25"/><circle cx="510.00" cy="179.93" r="1.25"/><circle cx="511.30" cy="179.81" r="1.25"/><circle cx="512.60" cy="179.69" r="1.25"/><circle cx="513.90" cy="179.56" r="1.25"/><circle cx="515.20" cy="179.43" r="1.25"/><circle cx="516.50" cy="179.30" r="1.25"/><circle cx="517.80" cy="179.16" r="1.25"/><circle cx="519.10" cy="179.03" r="1.25"/><circle cx="520.40" cy="178.89" r="1.25"/><circle cx="521.70" cy="178.76" r="1.25"/><circle cx="523.00" cy="178.63" r="1.25"/><circle cx="524.30" cy="178.50" r="1.25"/><circle cx="525.60" cy="178.38" r="1.25"/><circle cx="526.90" cy="178.25" r="1.25"/><circle cx="528.20" cy="178.12" r="1.25"/><circle cx="529.50" cy="177.99" r="1.25"/><circle cx="530.80" cy="177.85" r="1.25"/><circle cx="532.10" cy="177.70" r="1.25"/><circle cx="533.40" cy="177.53" r="1.25"/><circle cx="534.70" cy="177.36" r="1.25"/><circle cx="536.00" cy="177.16" r="1.25"/><circle cx="537.30" cy="176.95" r="1.25"/><circle cx="538.60" cy="176.72" r="1.25"/><circle cx="539.90" cy="176.48" r="1.25"/><circle cx="541.20" cy="176.22" r="1.25"/><circle cx="542.50" cy="175.95" r="1.25"/><circle cx="543.80" cy="175.67" r="1.25"/><circle cx="545.10" cy="175.38" r="1.25"/><circle cx="546.40" cy="175.08" r="1.25"/><circle cx="547.70" cy="174.78" r="1.25"/><circle cx="549.00" cy="174.46" r="1.25"/><circle cx="550.30" cy="174.14" r="1.25"/><circle cx="551.60" cy="173.80" r="1.25"/><circle cx="552.90" cy="173.45" r="1.25"/><circle cx="554.20" cy="173.09" r="1.25"/><circle cx="555.50" cy="172.70" r="1.25"/><circle cx="556.80" cy="172.29" r="1.25"/><circle cx="558.10" cy="171.85" r="1.25"/><circle cx="559.40" cy="171.39" r="1.25"/><circle cx="560.70" cy="170.90" r="1.25"/><circle cx="562.00" cy="170.37" r="1.25"/><circle cx="563.30" cy="169.77" r="1.25"/><circle cx="564.60" cy="169.08" r="1.25"/><circle cx="565.90" cy="168.27" r="1.25"/><circle cx="567.20" cy="167.19" r="1.25"/><circle cx="568.50" cy="165.81" r="1.25"/><circle cx="569.80" cy="164.30" r="1.25"/><circle cx="571.10" cy="162.85" r="1.25"/><circle cx="572.40" cy="161.45" r="1.25"/><circle cx="573.70" cy="159.75" r="1.25"/><circle cx="575.00" cy="157.28" r="1.25"/><circle cx="576.30" cy="154.21" r="1.25"/><circle cx="577.60" cy="151.10" r="1.25"/><circle cx="578.90" cy="147.83" r="1.25"/><circle cx="580.20" cy="144.38" r="1.25"/><circle cx="581.50" cy="140.70" r="1.25"/><circle cx="582.80" cy="136.74" r="1.25"/><circle cx="584.10" cy="132.71" r="1.25"/><circle cx="585.40" cy="128.78" r="1.25"/><circle cx="586.70" cy="124.85" r="1.25"/><circle cx="588.00" cy="121.06" r="1.25"/><circle cx="589.30" cy="117.51" r="1.25"/><circle cx="590.60" cy="114.13" r="1.25"/><circle cx="591.90" cy="110.80" r="1.25"/><circle cx="593.20" cy="107.54" r="1.25"/><circle cx="594.50" cy="104.35" r="1.25"/><circle cx="595.80" cy="101.09" r="1.25"/><circle cx="597.10" cy="97.67" r="1.25"/><circle cx="598.40" cy="94.21" r="1.25"/><circle cx="599.70" cy="90.44" r="1.25"/><circle cx="601.00" cy="85.79" r="1.25"/><circle cx="602.30" cy="80.67" r="1.25"/><circle cx="603.60" cy="77.00" r="1.25"/></g>
<polyline points="618.10,173.90 618.24,173.93 618.38,173.96 618.52,173.99 618.66,174.02 618.80,174.05 618.94,174.08 619.08,174.10 619.22,174.13 619.37,174.16 619.51,174.19 619.65,174.22 619.79,174.25 619.93,174.28 620.07,174.31 620.21,174.34 620.35,174.37 620.49,174.40 620.63,174.43 620.77,174.45 620.91,174.48 621.05,174.51 621.19,174.54 621.33,174.57 621.47,174.60 621.62,174.63 621.76,174.66 621.90,174.69 622.04,174.72 622.18,174.75 622.32,174.78 622.46,174.80 622.60,174.83 622.74,174.86 622.88,174.89 623.02,174.92 623.16,174.95 623.30,174.98 623.44,175.01 623.58,175.04 623.72,175.07 623.86,175.10 624.01,175.13 624.15,175.16 624.29,175.19 624.43,175.22 624.57,175.25 624.71,175.28 624.85,175.31 624.99,175.34 625.13,175.37 625.27,175.40 625.41,175.43 625.55,175.46 625.69,175.49 625.83,175.52 625.97,175.55 626.11,175.58 626.25,175.61 626.40,175.64 626.54,175.67 626.68,175.70 626.82,175.73 626.96,175.76 627.10,175.79 627.24,175.83 627.38,175.86 627.52,175.89 627.66,175.92 627.80,175.95 627.94,175.98 628.08,176.01 628.22,176.04 628.36,176.07 628.50,176.10 628.65,176.13 628.79,176.16 628.93,176.19 629.07,176.22 629.21,176.25 629.35,176.28 629.49,176.32 629.63,176.35 629.77,176.38 629.91,176.41 630.05,176.44 630.19,176.47 630.33,176.49 630.47,176.52 630.61,176.55 630.75,176.58 630.89,176.61 631.04,176.64 631.18,176.67 631.32,176.70 631.46,176.73 631.60,176.76 631.74,176.79 631.88,176.81 632.02,176.84 632.16,176.87 632.30,176.90 632.44,176.93 632.58,176.95 632.72,176.98 632.86,177.01 633.00,177.04 633.14,177.06 633.28,177.09 633.43,177.12 633.57,177.14 633.71,177.17 633.85,177.20 633.99,177.22 634.13,177.25 634.27,177.27 634.41,177.30 634.55,177.32 634.69,177.35 634.83,177.37 634.97,177.40 635.11,177.42 635.25,177.44 635.39,177.47 635.53,177.49 635.68,177.51 635.82,177.54 635.96,177.56 636.10,177.58 636.24,177.61 636.38,177.63 636.52,177.65 636.66,177.68 636.80,177.70 636.94,177.72 637.08,177.75 637.22,177.77 637.36,177.79 637.50,177.81 637.64,177.84 637.78,177.86 637.92,177.88 638.07,177.90 638.21,177.92 638.35,177.95 638.49,177.97 638.63,177.99 638.77,178.01 638.91,178.03 639.05,178.06 639.19,178.08 639.33,178.10 639.47,178.12 639.61,178.14 639.75,178.16 639.89,178.18 640.03,178.20 640.17,178.22 640.32,178.25 640.46,178.27 640.60,178.29 640.74,178.31 640.88,178.33 641.02,178.35 641.16,178.37 641.30,178.39 641.44,178.41 641.58,178.43 641.72,178.45 641.86,178.47 642.00,178.49 642.14,178.51 642.28,178.53 642.42,178.55 642.56,178.57 642.71,178.59 642.85,178.61 642.99,178.62 643.13,178.64 643.27,178.66 643.41,178.68 643.55,178.70 643.69,178.72 643.83,178.74 643.97,178.76 644.11,178.77 644.25,178.79 644.39,178.81 644.53,178.83 644.67,178.85 644.81,178.87 644.95,178.88 645.10,178.90 645.24,178.92 645.38,178.94 645.52,178.95 645.66,178.97 645.80,178.99 645.94,179.01 646.08,179.02 646.22,179.04 646.36,179.06 646.50,179.08 646.64,179.09 646.78,179.11 646.92,179.13 647.06,179.14 647.20,179.16 647.35,179.18 647.49,179.19 647.63,179.21 647.77,179.23 647.91,179.24 648.05,179.26 648.19,179.28 648.33,179.30 648.47,179.31 648.61,179.33 648.75,179.35 648.89,179.36 649.03,179.38 649.17,179.39 649.31,179.41 649.45,179.43 649.59,179.44 649.74,179.46 649.88,179.48 650.02,179.49 650.16,179.51 650.30,179.53 650.44,179.54 650.58,179.56 650.72,179.57 650.86,179.59 651.00,179.61 651.14,179.62 651.28,179.64 651.42,179.65 651.56,179.67 651.70,179.68 651.84,179.70 651.98,179.71 652.13,179.73 652.27,179.74 652.41,179.76 652.55,179.77 652.69,179.79 652.83,179.80 652.97,179.82 653.11,179.83 653.25,179.85 653.39,179.86 653.53,179.88 653.67,179.89 653.81,179.91 653.95,179.92 654.09,179.93 654.23,179.95 654.38,179.96 654.52,179.98 654.66,179.99 654.80,180.00 654.94,180.02 655.08,180.03 655.22,180.04 655.36,180.05 655.50,180.07 655.64,180.08 655.78,180.09 655.92,180.10 656.06,180.12 656.20,180.13 656.34,180.14 656.48,180.15 656.62,180.16 656.77,180.18 656.91,180.19 657.05,180.20 657.19,180.21 657.33,180.22 657.47,180.23 657.61,180.24 657.75,180.25 657.89,180.26 658.03,180.27 658.17,180.28 658.31,180.29 658.45,180.30 658.59,180.31 658.73,180.32 658.87,180.33 659.02,180.34 659.16,180.35 659.30,180.36 659.44,180.37 659.58,180.38 659.72,180.39 659.86,180.40 660.00,180.41 660.14,180.42 660.28,180.43 660.42,180.44 660.56,180.45 660.70,180.46 660.84,180.47 660.98,180.47 661.12,180.48 661.26,180.49 661.41,180.50 661.55,180.51 661.69,180.52 661.83,180.53 661.97,180.54 662.11,180.55 662.25,180.56 662.39,180.57 662.53,180.57 662.67,180.58 662.81,180.59 662.95,180.60 663.09,180.61 663.23,180.62 663.37,180.63 663.51,180.64 663.65,180.64 663.80,180.65 663.94,180.66 664.08,180.67 664.22,180.68 664.36,180.69 664.50,180.69 664.64,180.70 664.78,180.71 664.92,180.72 665.06,180.73 665.20,180.73 665.34,180.74 665.48,180.75 665.62,180.76 665.76,180.77 665.90,180.77 666.05,180.78 666.19,180.79 666.33,180.80 666.47,180.80 666.61,180.81 666.75,180.82 666.89,180.83 667.03,180.83 667.17,180.84 667.31,180.85 667.45,180.85 667.59,180.86 667.73,180.87 667.87,180.88 668.01,180.88 668.15,180.89 668.29,180.90 668.44,180.90 668.58,180.91 668.72,180.91 668.86,180.92 669.00,180.93 669.14,180.93 669.28,180.94 669.42,180.95 669.56,180.95 669.70,180.96 669.84,180.96 669.98,180.97 670.12,180.97 670.26,180.98 670.40,180.99 670.54,180.99 670.68,181.00 670.83,181.00 670.97,181.01 671.11,181.01 671.25,181.02 671.39,181.02 671.53,181.03 671.67,181.03 671.81,181.04 671.95,181.04 672.09,181.04 672.23,181.05 672.37,181.05 672.51,181.06 672.65,181.06 672.79,181.07 672.93,181.07 673.08,181.07 673.22,181.08 673.36,181.08 673.50,181.08 673.64,181.09 673.78,181.09 673.92,181.09 674.06,181.10 674.20,181.10" fill="none" stroke="#151515" stroke-width="0.7"/>
<g fill="#151515"><circle cx="618.10" cy="173.90" r="1.25"/><circle cx="619.40" cy="174.17" r="1.25"/><circle cx="620.70" cy="174.44" r="1.25"/><circle cx="622.00" cy="174.71" r="1.25"/><circle cx="623.30" cy="174.98" r="1.25"/><circle cx="624.60" cy="175.25" r="1.25"/><circle cx="625.90" cy="175.53" r="1.25"/><circle cx="627.20" cy="175.82" r="1.25"/><circle cx="628.50" cy="176.10" r="1.25"/><circle cx="629.80" cy="176.38" r="1.25"/><circle cx="631.10" cy="176.66" r="1.25"/><circle cx="632.40" cy="176.92" r="1.25"/><circle cx="633.70" cy="177.17" r="1.25"/><circle cx="635.00" cy="177.40" r="1.25"/><circle cx="636.30" cy="177.62" r="1.25"/><circle cx="637.60" cy="177.83" r="1.25"/><circle cx="638.90" cy="178.03" r="1.25"/><circle cx="640.20" cy="178.23" r="1.25"/><circle cx="641.50" cy="178.42" r="1.25"/><circle cx="642.80" cy="178.60" r="1.25"/><circle cx="644.10" cy="178.77" r="1.25"/><circle cx="645.40" cy="178.94" r="1.25"/><circle cx="646.70" cy="179.10" r="1.25"/><circle cx="648.00" cy="179.26" r="1.25"/><circle cx="649.30" cy="179.41" r="1.25"/><circle cx="650.60" cy="179.56" r="1.25"/><circle cx="651.90" cy="179.70" r="1.25"/><circle cx="653.20" cy="179.84" r="1.25"/><circle cx="654.50" cy="179.97" r="1.25"/><circle cx="655.80" cy="180.09" r="1.25"/><circle cx="657.10" cy="180.20" r="1.25"/><circle cx="658.40" cy="180.30" r="1.25"/><circle cx="659.70" cy="180.39" r="1.25"/><circle cx="661.00" cy="180.48" r="1.25"/><circle cx="662.30" cy="180.56" r="1.25"/><circle cx="663.60" cy="180.64" r="1.25"/><circle cx="664.90" cy="180.72" r="1.25"/><circle cx="666.20" cy="180.79" r="1.25"/><circle cx="667.50" cy="180.86" r="1.25"/><circle cx="668.80" cy="180.92" r="1.25"/><circle cx="670.10" cy="180.97" r="1.25"/><circle cx="671.40" cy="181.02" r="1.25"/><circle cx="672.70" cy="181.06" r="1.25"/><circle cx="674.00" cy="181.10" r="1.25"/></g>
<polyline points="603.60,77.00 604.80,77.60 606.40,80.00 607.60,99.00 608.80,133.70 609.90,151.10 609.30,171.00 612.30,165.10 613.40,170.40 614.60,168.00 614.00,176.80 616.40,171.50 618.10,173.90" fill="none" stroke="#333" stroke-width="0.6" stroke-linejoin="round"/>
<g fill="#151515"><rect x="605.55" y="79.15" width="1.7" height="1.7"/><rect x="606.75" y="98.15" width="1.7" height="1.7"/><rect x="607.95" y="132.85" width="1.7" height="1.7"/><rect x="609.05" y="150.25" width="1.7" height="1.7"/><rect x="608.45" y="170.15" width="1.7" height="1.7"/><rect x="611.45" y="164.25" width="1.7" height="1.7"/><rect x="612.55" y="169.55" width="1.7" height="1.7"/><rect x="613.75" y="167.15" width="1.7" height="1.7"/><rect x="613.15" y="175.95" width="1.7" height="1.7"/><rect x="615.55" y="170.65" width="1.7" height="1.7"/><rect x="617.25" y="173.05" width="1.7" height="1.7"/></g>
<polyline points="495.70,178.40 496.04,178.36 496.38,178.32 496.72,178.28 497.06,178.24 497.40,178.20 497.74,178.16 498.08,178.11 498.42,178.07 498.76,178.03 499.10,177.99 499.44,177.95 499.78,177.90 500.12,177.86 500.46,177.82 500.80,177.77 501.14,177.73 501.48,177.69 501.82,177.64 502.16,177.60 502.50,177.55 502.84,177.51 503.18,177.47 503.52,177.42 503.86,177.38 504.20,177.33 504.54,177.29 504.88,177.24 505.22,177.19 505.56,177.15 505.90,177.10 506.24,177.06 506.58,177.01 506.92,176.96 507.26,176.92 507.60,176.87 507.94,176.82 508.28,176.77 508.62,176.73 508.96,176.68 509.30,176.63 509.64,176.58 509.98,176.54 510.32,176.49 510.66,176.44 511.00,176.39 511.34,176.34 511.68,176.29 512.02,176.25 512.36,176.20 512.71,176.15 513.05,176.10 513.39,176.05 513.73,176.00 514.07,175.95 514.41,175.90 514.75,175.85 515.09,175.80 515.43,175.74 515.77,175.69 516.11,175.64 516.45,175.59 516.79,175.54 517.13,175.48 517.47,175.43 517.81,175.38 518.15,175.32 518.49,175.27 518.83,175.21 519.17,175.16 519.51,175.10 519.85,175.05 520.19,174.99 520.53,174.93 520.87,174.87 521.21,174.82 521.55,174.76 521.89,174.70 522.23,174.64 522.57,174.58 522.91,174.52 523.25,174.46 523.59,174.41 523.93,174.35 524.27,174.29 524.61,174.23 524.95,174.17 525.29,174.11 525.63,174.04 525.97,173.98 526.31,173.92 526.65,173.86 526.99,173.80 527.33,173.73 527.67,173.67 528.01,173.60 528.35,173.54 528.69,173.47 529.03,173.40 529.37,173.33 529.71,173.26 530.05,173.19 530.39,173.12 530.73,173.05 531.07,172.98 531.41,172.90 531.75,172.83 532.09,172.75 532.43,172.67 532.77,172.60 533.11,172.52 533.45,172.43 533.79,172.35 534.13,172.27 534.47,172.18 534.81,172.09 535.15,172.00 535.49,171.91 535.83,171.82 536.17,171.72 536.51,171.63 536.85,171.53 537.19,171.43 537.53,171.32 537.87,171.22 538.21,171.11 538.55,171.01 538.89,170.90 539.23,170.78 539.57,170.67 539.91,170.56 540.25,170.44 540.59,170.32 540.93,170.20 541.27,170.08 541.61,169.96 541.95,169.84 542.29,169.71 542.63,169.58 542.97,169.46 543.31,169.33 543.65,169.20 543.99,169.07 544.33,168.93 544.67,168.80 545.01,168.66 545.35,168.53 545.69,168.39 546.03,168.25 546.37,168.11 546.72,167.97 547.06,167.83 547.40,167.69 547.74,167.54 548.08,167.40 548.42,167.24 548.76,167.09 549.10,166.93 549.44,166.77 549.78,166.61 550.12,166.44 550.46,166.27 550.80,166.09 551.14,165.92 551.48,165.74 551.82,165.56 552.16,165.38 552.50,165.19 552.84,165.01 553.18,164.82 553.52,164.63 553.86,164.44 554.20,164.24 554.54,164.05 554.88,163.86 555.22,163.67 555.56,163.48 555.90,163.29 556.24,163.09 556.58,162.89 556.92,162.68 557.26,162.47 557.60,162.25 557.94,162.02 558.28,161.78 558.62,161.53 558.96,161.27 559.30,161.00 559.64,160.71 559.98,160.40 560.32,160.07 560.66,159.73 561.00,159.37 561.34,158.99 561.68,158.60 562.02,158.20 562.36,157.78 562.70,157.36 563.04,156.93 563.38,156.49 563.72,156.05 564.06,155.61 564.40,155.16 564.74,154.71 565.08,154.26 565.42,153.81 565.76,153.34 566.10,152.87 566.44,152.39 566.78,151.91 567.12,151.41 567.46,150.91 567.80,150.40 568.14,149.87 568.48,149.34 568.82,148.80 569.16,148.25 569.50,147.70 569.84,147.13 570.18,146.55 570.52,145.96 570.86,145.36 571.20,144.73 571.54,144.08 571.88,143.41 572.22,142.73 572.56,142.04 572.90,141.33 573.24,140.62 573.58,139.91 573.92,139.19 574.26,138.47 574.60,137.74 574.94,136.99 575.28,136.23 575.62,135.47 575.96,134.69 576.30,133.92 576.64,133.14 576.98,132.36 577.32,131.59 577.66,130.82 578.00,130.07 578.34,129.33 578.68,128.61 579.02,127.89 579.36,127.18 579.70,126.47 580.04,125.75 580.38,125.02 580.73,124.28 581.07,123.51 581.41,122.71 581.75,121.89 582.09,121.01 582.43,120.09 582.77,119.13 583.11,118.14 583.45,117.13 583.79,116.11 584.13,115.10 584.47,114.10 584.81,113.12 585.15,112.18 585.49,111.27 585.83,110.40 586.17,109.56 586.51,108.73 586.85,107.91 587.19,107.10 587.53,106.30 587.87,105.49 588.21,104.68 588.55,103.86 588.89,103.03 589.23,102.18 589.57,101.32 589.91,100.45 590.25,99.57 590.59,98.69 590.93,97.80 591.27,96.91 591.61,96.01 591.95,95.11 592.29,94.21 592.63,93.31 592.97,92.41 593.31,91.51 593.65,90.60 593.99,89.70 594.33,88.78 594.67,87.86 595.01,86.93 595.35,86.00 595.69,85.07 596.03,84.14 596.37,83.21 596.71,82.29 597.05,81.37 597.39,80.45 597.73,79.54 598.07,78.64 598.41,77.75 598.75,76.87 599.09,75.99 599.43,75.10 599.77,74.21 600.11,73.32 600.45,72.43 600.79,71.54 601.13,70.65 601.47,69.77 601.81,68.90 602.15,68.04 602.49,67.19 602.83,66.35 603.17,65.53 603.51,64.73 603.85,63.95 604.19,63.20 604.53,62.46 604.87,61.76 605.21,61.08 605.55,60.44 605.89,59.82 606.23,59.22 606.57,58.64 606.91,58.08 607.25,57.53 607.59,56.99 607.93,56.46 608.27,55.92 608.61,55.39 608.95,54.84 609.29,54.29 609.63,53.72 609.97,53.14 610.31,52.53 610.65,51.90 610.99,51.24 611.33,50.55 611.67,49.84 612.01,49.11 612.35,48.36 612.69,47.60 613.03,46.83 613.37,46.06 613.71,45.29 614.05,44.52 614.39,43.77 614.74,43.02 615.08,42.29 615.42,41.58 615.76,40.90 616.10,40.24 616.44,39.61 616.78,39.02 617.12,38.44 617.46,37.87 617.80,37.31 618.14,36.77 618.48,36.23 618.82,35.71 619.16,35.19 619.50,34.69 619.84,34.19 620.18,33.69 620.52,33.20 620.86,32.72 621.20,32.24 621.54,31.76 621.88,31.29 622.22,30.81 622.56,30.34 622.90,29.86 623.24,29.38 623.58,28.89 623.92,28.40 624.26,27.90 624.60,27.40 624.94,26.90 625.28,26.41 625.62,25.92 625.96,25.44 626.30,24.97 626.64,24.51 626.98,24.07 627.32,23.65 627.66,23.24 628.00,22.86 628.34,22.50 628.68,22.17 629.02,21.87 629.36,21.59 629.70,21.33 630.04,21.09 630.38,20.87 630.72,20.66 631.06,20.47 631.40,20.30" fill="none" stroke="#151515" stroke-width="0.7"/>
<g fill="#151515"><circle cx="495.70" cy="178.40" r="1.25"/><circle cx="497.00" cy="178.24" r="1.25"/><circle cx="498.30" cy="178.09" r="1.25"/><circle cx="499.60" cy="177.93" r="1.25"/><circle cx="500.90" cy="177.76" r="1.25"/><circle cx="502.20" cy="177.59" r="1.25"/><circle cx="503.50" cy="177.42" r="1.25"/><circle cx="504.80" cy="177.25" r="1.25"/><circle cx="506.10" cy="177.08" r="1.25"/><circle cx="507.40" cy="176.90" r="1.25"/><circle cx="508.70" cy="176.72" r="1.25"/><circle cx="510.00" cy="176.53" r="1.25"/><circle cx="511.30" cy="176.35" r="1.25"/><circle cx="512.60" cy="176.16" r="1.25"/><circle cx="513.90" cy="175.97" r="1.25"/><circle cx="515.20" cy="175.78" r="1.25"/><circle cx="516.50" cy="175.58" r="1.25"/><circle cx="517.80" cy="175.38" r="1.25"/><circle cx="519.10" cy="175.17" r="1.25"/><circle cx="520.40" cy="174.95" r="1.25"/><circle cx="521.70" cy="174.73" r="1.25"/><circle cx="523.00" cy="174.51" r="1.25"/><circle cx="524.30" cy="174.28" r="1.25"/><circle cx="525.60" cy="174.05" r="1.25"/><circle cx="526.90" cy="173.81" r="1.25"/><circle cx="528.20" cy="173.57" r="1.25"/><circle cx="529.50" cy="173.31" r="1.25"/><circle cx="530.80" cy="173.04" r="1.25"/><circle cx="532.10" cy="172.75" r="1.25"/><circle cx="533.40" cy="172.45" r="1.25"/><circle cx="534.70" cy="172.12" r="1.25"/><circle cx="536.00" cy="171.77" r="1.25"/><circle cx="537.30" cy="171.39" r="1.25"/><circle cx="538.60" cy="170.99" r="1.25"/><circle cx="539.90" cy="170.56" r="1.25"/><circle cx="541.20" cy="170.11" r="1.25"/><circle cx="542.50" cy="169.63" r="1.25"/><circle cx="543.80" cy="169.14" r="1.25"/><circle cx="545.10" cy="168.63" r="1.25"/><circle cx="546.40" cy="168.10" r="1.25"/><circle cx="547.70" cy="167.56" r="1.25"/><circle cx="549.00" cy="166.98" r="1.25"/><circle cx="550.30" cy="166.35" r="1.25"/><circle cx="551.60" cy="165.68" r="1.25"/><circle cx="552.90" cy="164.97" r="1.25"/><circle cx="554.20" cy="164.24" r="1.25"/><circle cx="555.50" cy="163.51" r="1.25"/><circle cx="556.80" cy="162.75" r="1.25"/><circle cx="558.10" cy="161.91" r="1.25"/><circle cx="559.40" cy="160.92" r="1.25"/><circle cx="560.70" cy="159.69" r="1.25"/><circle cx="562.00" cy="158.22" r="1.25"/><circle cx="563.30" cy="156.60" r="1.25"/><circle cx="564.60" cy="154.90" r="1.25"/><circle cx="565.90" cy="153.15" r="1.25"/><circle cx="567.20" cy="151.30" r="1.25"/><circle cx="568.50" cy="149.31" r="1.25"/><circle cx="569.80" cy="147.20" r="1.25"/><circle cx="571.10" cy="144.92" r="1.25"/><circle cx="572.40" cy="142.37" r="1.25"/><circle cx="573.70" cy="139.66" r="1.25"/><circle cx="575.00" cy="136.86" r="1.25"/><circle cx="576.30" cy="133.92" r="1.25"/><circle cx="577.60" cy="130.97" r="1.25"/><circle cx="578.90" cy="128.16" r="1.25"/><circle cx="580.20" cy="125.42" r="1.25"/><circle cx="581.50" cy="122.49" r="1.25"/><circle cx="582.80" cy="119.03" r="1.25"/><circle cx="584.10" cy="115.18" r="1.25"/><circle cx="585.40" cy="111.50" r="1.25"/><circle cx="586.70" cy="108.26" r="1.25"/><circle cx="588.00" cy="105.18" r="1.25"/><circle cx="589.30" cy="102.00" r="1.25"/><circle cx="590.60" cy="98.66" r="1.25"/><circle cx="591.90" cy="95.24" r="1.25"/><circle cx="593.20" cy="91.80" r="1.25"/><circle cx="594.50" cy="88.32" r="1.25"/><circle cx="595.80" cy="84.77" r="1.25"/><circle cx="597.10" cy="81.23" r="1.25"/><circle cx="598.40" cy="77.78" r="1.25"/><circle cx="599.70" cy="74.40" r="1.25"/><circle cx="601.00" cy="70.99" r="1.25"/><circle cx="602.30" cy="67.66" r="1.25"/><circle cx="603.60" cy="64.53" r="1.25"/><circle cx="604.90" cy="61.70" r="1.25"/><circle cx="606.20" cy="59.28" r="1.25"/><circle cx="607.50" cy="57.14" r="1.25"/><circle cx="608.80" cy="55.09" r="1.25"/><circle cx="610.10" cy="52.91" r="1.25"/><circle cx="611.40" cy="50.41" r="1.25"/><circle cx="612.70" cy="47.59" r="1.25"/><circle cx="614.00" cy="44.65" r="1.25"/><circle cx="615.30" cy="41.82" r="1.25"/><circle cx="616.60" cy="39.32" r="1.25"/><circle cx="617.90" cy="37.14" r="1.25"/><circle cx="619.20" cy="35.13" r="1.25"/><circle cx="620.50" cy="33.23" r="1.25"/><circle cx="621.80" cy="31.40" r="1.25"/><circle cx="623.10" cy="29.58" r="1.25"/><circle cx="624.40" cy="27.69" r="1.25"/><circle cx="625.70" cy="25.80" r="1.25"/><circle cx="627.00" cy="24.05" r="1.25"/><circle cx="628.30" cy="22.54" r="1.25"/><circle cx="629.60" cy="21.41" r="1.25"/><circle cx="630.90" cy="20.56" r="1.25"/></g>
<polyline points="642.60,175.60 642.68,175.59 642.76,175.58 642.84,175.56 642.92,175.55 643.00,175.54 643.08,175.53 643.15,175.51 643.23,175.50 643.31,175.49 643.39,175.48 643.47,175.47 643.55,175.46 643.63,175.45 643.71,175.43 643.79,175.42 643.87,175.41 643.95,175.40 644.03,175.39 644.10,175.38 644.18,175.37 644.26,175.36 644.34,175.35 644.42,175.34 644.50,175.34 644.58,175.33 644.66,175.32 644.74,175.31 644.82,175.30 644.90,175.29 644.98,175.29 645.06,175.28 645.13,175.27 645.21,175.27 645.29,175.26 645.37,175.25 645.45,175.25 645.53,175.24 645.61,175.24 645.69,175.23 645.77,175.23 645.85,175.22 645.93,175.22 646.01,175.22 646.08,175.21 646.16,175.21 646.24,175.21 646.32,175.20 646.40,175.20 646.48,175.20 646.56,175.20 646.64,175.20 646.72,175.20 646.80,175.20 646.88,175.20 646.96,175.20 647.04,175.20 647.11,175.20 647.19,175.21 647.27,175.21 647.35,175.21 647.43,175.21 647.51,175.22 647.59,175.22 647.67,175.22 647.75,175.23 647.83,175.23 647.91,175.23 647.99,175.24 648.06,175.24 648.14,175.25 648.22,175.25 648.30,175.26 648.38,175.27 648.46,175.27 648.54,175.28 648.62,175.28 648.70,175.29 648.78,175.30 648.86,175.31 648.94,175.31 649.02,175.32 649.09,175.33 649.17,175.34 649.25,175.34 649.33,175.35 649.41,175.36 649.49,175.37 649.57,175.38 649.65,175.39 649.73,175.40 649.81,175.41 649.89,175.42 649.97,175.43 650.04,175.44 650.12,175.45 650.20,175.46 650.28,175.47 650.36,175.48 650.44,175.49 650.52,175.50 650.60,175.51 650.68,175.52 650.76,175.54 650.84,175.55 650.92,175.56 650.99,175.57 651.07,175.58 651.15,175.60 651.23,175.61 651.31,175.62 651.39,175.63 651.47,175.65 651.55,175.66 651.63,175.67 651.71,175.68 651.79,175.70 651.87,175.71 651.95,175.72 652.02,175.74 652.10,175.75 652.18,175.76 652.26,175.78 652.34,175.79 652.42,175.81 652.50,175.82 652.58,175.83 652.66,175.85 652.74,175.86 652.82,175.88 652.90,175.89 652.97,175.90 653.05,175.92 653.13,175.93 653.21,175.95 653.29,175.96 653.37,175.98 653.45,175.99 653.53,176.00 653.61,176.02 653.69,176.03 653.77,176.05 653.85,176.06 653.93,176.08 654.00,176.09 654.08,176.11 654.16,176.12 654.24,176.13 654.32,176.15 654.40,176.16 654.48,176.18 654.56,176.19 654.64,176.21 654.72,176.22 654.80,176.24 654.88,176.25 654.95,176.26 655.03,176.28 655.11,176.29 655.19,176.31 655.27,176.32 655.35,176.34 655.43,176.35 655.51,176.36 655.59,176.38 655.67,176.39 655.75,176.40 655.83,176.42 655.91,176.43 655.98,176.45 656.06,176.46 656.14,176.47 656.22,176.49 656.30,176.50 656.38,176.51 656.46,176.52 656.54,176.54 656.62,176.55 656.70,176.56 656.78,176.57 656.86,176.59 656.93,176.60 657.01,176.61 657.09,176.62 657.17,176.64 657.25,176.65 657.33,176.66 657.41,176.67 657.49,176.68 657.57,176.69 657.65,176.70 657.73,176.71 657.81,176.73 657.89,176.74 657.96,176.75 658.04,176.76 658.12,176.77 658.20,176.78 658.28,176.79 658.36,176.80 658.44,176.80 658.52,176.81 658.60,176.82 658.68,176.83 658.76,176.84 658.84,176.85 658.91,176.86 658.99,176.87 659.07,176.88 659.15,176.89 659.23,176.90 659.31,176.91 659.39,176.92 659.47,176.92 659.55,176.93 659.63,176.94 659.71,176.95 659.79,176.96 659.87,176.97 659.94,176.98 660.02,176.99 660.10,177.00 660.18,177.01 660.26,177.02 660.34,177.02 660.42,177.03 660.50,177.04 660.58,177.05 660.66,177.06 660.74,177.07 660.82,177.08 660.89,177.09 660.97,177.10 661.05,177.11 661.13,177.11 661.21,177.12 661.29,177.13 661.37,177.14 661.45,177.15 661.53,177.16 661.61,177.17 661.69,177.18 661.77,177.19 661.85,177.19 661.92,177.20 662.00,177.21 662.08,177.22 662.16,177.23 662.24,177.24 662.32,177.25 662.40,177.26 662.48,177.26 662.56,177.27 662.64,177.28 662.72,177.29 662.80,177.30 662.87,177.31 662.95,177.32 663.03,177.33 663.11,177.33 663.19,177.34 663.27,177.35 663.35,177.36 663.43,177.37 663.51,177.38 663.59,177.39 663.67,177.39 663.75,177.40 663.83,177.41 663.90,177.42 663.98,177.43 664.06,177.44 664.14,177.45 664.22,177.45 664.30,177.46 664.38,177.47 664.46,177.48 664.54,177.49 664.62,177.50 664.70,177.50 664.78,177.51 664.85,177.52 664.93,177.53 665.01,177.54 665.09,177.55 665.17,177.55 665.25,177.56 665.33,177.57 665.41,177.58 665.49,177.59 665.57,177.60 665.65,177.60 665.73,177.61 665.81,177.62 665.88,177.63 665.96,177.64 666.04,177.65 666.12,177.65 666.20,177.66 666.28,177.67 666.36,177.68 666.44,177.69 666.52,177.69 666.60,177.70 666.68,177.71 666.76,177.72 666.83,177.73 666.91,177.73 666.99,177.74 667.07,177.75 667.15,177.76 667.23,177.77 667.31,177.77 667.39,177.78 667.47,177.79 667.55,177.80 667.63,177.81 667.71,177.81 667.78,177.82 667.86,177.83 667.94,177.84 668.02,177.84 668.10,177.85 668.18,177.86 668.26,177.87 668.34,177.88 668.42,177.88 668.50,177.89 668.58,177.90 668.66,177.91 668.74,177.91 668.81,177.92 668.89,177.93 668.97,177.94 669.05,177.94 669.13,177.95 669.21,177.96 669.29,177.97 669.37,177.97 669.45,177.98 669.53,177.99 669.61,178.00 669.69,178.00 669.76,178.01 669.84,178.02 669.92,178.03 670.00,178.03 670.08,178.04 670.16,178.05 670.24,178.06 670.32,178.06 670.40,178.07 670.48,178.08 670.56,178.09 670.64,178.09 670.72,178.10 670.79,178.11 670.87,178.11 670.95,178.12 671.03,178.13 671.11,178.14 671.19,178.14 671.27,178.15 671.35,178.16 671.43,178.16 671.51,178.17 671.59,178.18 671.67,178.19 671.74,178.19 671.82,178.20 671.90,178.21 671.98,178.21 672.06,178.22 672.14,178.23 672.22,178.23 672.30,178.24 672.38,178.25 672.46,178.25 672.54,178.26 672.62,178.27 672.70,178.27 672.77,178.28 672.85,178.29 672.93,178.30 673.01,178.30 673.09,178.31 673.17,178.32 673.25,178.32 673.33,178.33 673.41,178.33 673.49,178.34 673.57,178.35 673.65,178.35 673.72,178.36 673.80,178.37 673.88,178.37 673.96,178.38 674.04,178.39 674.12,178.39 674.20,178.40" fill="none" stroke="#151515" stroke-width="0.7"/>
<g fill="#151515"><circle cx="642.60" cy="175.60" r="1.25"/><circle cx="643.90" cy="175.41" r="1.25"/><circle cx="645.20" cy="175.27" r="1.25"/><circle cx="646.50" cy="175.20" r="1.25"/><circle cx="647.80" cy="175.23" r="1.25"/><circle cx="649.10" cy="175.33" r="1.25"/><circle cx="650.40" cy="175.49" r="1.25"/><circle cx="651.70" cy="175.68" r="1.25"/><circle cx="653.00" cy="175.91" r="1.25"/><circle cx="654.30" cy="176.15" r="1.25"/><circle cx="655.60" cy="176.38" r="1.25"/><circle cx="656.90" cy="176.59" r="1.25"/><circle cx="658.20" cy="176.78" r="1.25"/><circle cx="659.50" cy="176.93" r="1.25"/><circle cx="660.80" cy="177.08" r="1.25"/><circle cx="662.10" cy="177.22" r="1.25"/><circle cx="663.40" cy="177.37" r="1.25"/><circle cx="664.70" cy="177.51" r="1.25"/><circle cx="666.00" cy="177.64" r="1.25"/><circle cx="667.30" cy="177.77" r="1.25"/><circle cx="668.60" cy="177.90" r="1.25"/><circle cx="669.90" cy="178.02" r="1.25"/><circle cx="671.20" cy="178.14" r="1.25"/><circle cx="672.50" cy="178.26" r="1.25"/><circle cx="673.80" cy="178.37" r="1.25"/></g>
<polyline points="631.40,20.30 632.40,60.00 633.60,131.00 634.30,154.30 634.10,158.50 636.80,166.90 638.00,179.50 640.30,171.50 642.60,175.60" fill="none" stroke="#333" stroke-width="0.6" stroke-linejoin="round"/>
<g fill="#151515"><rect x="632.75" y="130.15" width="1.7" height="1.7"/><rect x="633.45" y="153.45" width="1.7" height="1.7"/><rect x="633.25" y="157.65" width="1.7" height="1.7"/><rect x="635.95" y="166.05" width="1.7" height="1.7"/><rect x="637.15" y="178.65" width="1.7" height="1.7"/><rect x="639.45" y="170.65" width="1.7" height="1.7"/><rect x="641.75" y="174.75" width="1.7" height="1.7"/></g>
<polyline points="585.35,184.30 585.35,182.92 585.36,181.55 585.38,180.17 585.40,178.79 585.43,177.42 585.47,176.04 585.51,174.66 585.56,173.28 585.61,171.91 585.67,170.53 585.74,169.15 585.82,167.78 585.90,166.40 585.98,165.02 586.08,163.65 586.18,162.27 586.28,160.89 586.40,159.51 586.52,158.14 586.64,156.76 586.77,155.38 586.91,154.01 587.06,152.63 587.21,151.25 587.37,149.88 587.53,148.50 587.71,147.12 587.88,145.75 588.07,144.37 588.26,142.99 588.45,141.61 588.66,140.24 588.87,138.86 589.08,137.48 589.31,136.11 589.54,134.73 589.77,133.35 590.02,131.98 590.26,130.60 590.52,129.22 590.78,127.84 591.05,126.47 591.32,125.09 591.61,123.71 591.89,122.34 592.19,120.96 592.49,119.58 592.79,118.21 593.11,116.83 593.43,115.45 593.75,114.08 594.09,112.70 594.43,111.32 594.77,109.94 595.12,108.57 595.48,107.19 595.85,105.81 596.22,104.44 596.60,103.06 596.98,101.68 597.37,100.31 597.77,98.93 598.17,97.55 598.58,96.17 599.00,94.80 599.42,93.42 599.85,92.04 600.29,90.67 600.73,89.29 601.18,87.91 601.64,86.54 602.10,85.16 602.57,83.78 603.04,82.41 603.52,81.03 604.01,79.65 604.51,78.27 605.01,76.90 605.51,75.52 606.03,74.14 606.55,72.77 607.07,71.39 607.61,70.01 608.15,68.64 608.69,67.26 609.25,65.88 609.80,64.50 610.37,63.13 610.94,61.75 611.52,60.37 612.10,59.00 612.70,57.62 613.29,56.24 613.90,54.87 614.51,53.49 615.13,52.11 615.75,50.74 616.38,49.36 617.02,47.98 617.66,46.60 618.31,45.23 618.96,43.85 619.63,42.47 620.30,41.10 620.97,39.72 621.65,38.34 622.34,36.97 623.04,35.59 623.74,34.21 624.44,32.83 625.16,31.46 625.88,30.08 626.61,28.70 627.34,27.33 628.08,25.95 628.82,24.57 629.58,23.20 630.34,21.82 631.10,20.44 631.87,19.07" fill="none" stroke="#e8232b" stroke-width="1.2"/>
<text x="635.20" y="21.70" font-size="8.5" text-anchor="start" font-weight="normal" font-style="normal" fill="#e8232b" letter-spacing="0.25">Fitted</text>
<text x="635.20" y="32.20" font-size="8.5" text-anchor="start" font-weight="normal" font-style="normal" fill="#e8232b" letter-spacing="0.3">backbone</text>
<text x="507.80" y="25.30" font-size="8.7" text-anchor="start" font-weight="normal" font-style="normal" fill="#222" ><tspan font-style="italic" font-family="Liberation Serif">&#946;</tspan> = 7.29 &#215; 10<tspan font-size="5.8" dy="-3.2">22</tspan><tspan dy="3.2"> m</tspan><tspan font-size="5.8" dy="-3.2">&#8722;2</tspan><tspan dy="3.2"> s</tspan><tspan font-size="5.8" dy="-3.2">&#8722;2</tspan></text>
<text x="507.80" y="38.50" font-size="8.7" text-anchor="start" font-weight="normal" font-style="normal" fill="#222" >Q = 8.16 &#215; 10<tspan font-size="5.8" dy="-3.2">5</tspan></text>
<text x="507.80" y="50.80" font-size="8.7" text-anchor="start" font-weight="normal" font-style="normal" fill="#222" ><tspan font-style="italic">f</tspan><tspan font-size="5.8" dy="2">0</tspan><tspan dy="-2"> = 0.61 MHz</tspan></text>
<rect x="515.2" y="93.4" width="7" height="68.1" fill="url(#cbar)" stroke="#3a3a3a" stroke-width="0.7"/>
<text x="526.60" y="100.30" font-size="8.4" text-anchor="start" font-weight="normal" font-style="normal" fill="#222" >1.37</text>
<text x="526.60" y="161.80" font-size="8.4" text-anchor="start" font-weight="normal" font-style="normal" fill="#222" >0</text>
<text x="502.20" y="83.30" font-size="8.4" text-anchor="start" font-weight="normal" font-style="normal" fill="#222" ><tspan font-style="italic">F</tspan><tspan font-size="5.3" dy="2">exc</tspan><tspan dy="-2"> (m&#183;s</tspan><tspan font-size="5.8" dy="-3">&#8722;2</tspan><tspan dy="3">)</tspan></text>
<path d="M37.5,396.70 h2.6 M218.5,396.70 h-2.6 M37.5,351.97 h1.5 M218.5,351.97 h-1.5 M37.5,325.80 h1.5 M218.5,325.80 h-1.5 M37.5,307.23 h1.5 M218.5,307.23 h-1.5 M37.5,292.83 h1.5 M218.5,292.83 h-1.5 M37.5,281.07 h1.5 M218.5,281.07 h-1.5 M37.5,271.12 h1.5 M218.5,271.12 h-1.5 M37.5,262.50 h1.5 M218.5,262.50 h-1.5 M37.5,254.90 h1.5 M218.5,254.90 h-1.5 M37.5,248.10 h2.6 M218.5,248.10 h-2.6 M70.40,231.5 v2.6 M103.40,231.5 v2.6 M136.40,231.5 v2.6 M169.40,231.5 v2.6 M202.40,231.5 v2.6 M53.90,397.5 v-2.6 M103.40,397.5 v-2.6 M152.90,397.5 v-2.6 M202.40,397.5 v-2.6" stroke="#262626" stroke-width="0.9" fill="none"/>
<path d="M53.90,237.20 L59.00,243.80 L53.90,250.40 L48.80,243.80 Z M86.90,302.50 L92.00,309.10 L86.90,315.70 L81.80,309.10 Z M119.90,332.10 L125.00,338.70 L119.90,345.30 L114.80,338.70 Z M152.90,348.90 L158.00,355.50 L152.90,362.10 L147.80,355.50 Z M185.90,360.80 L191.00,367.40 L185.90,374.00 L180.80,367.40 Z" fill="none" stroke="#a21d38" stroke-width="1.3"/>
<path d="M53.90,231.40 L59.00,238.00 L53.90,244.60 L48.80,238.00 Z M86.90,264.80 L92.00,271.40 L86.90,278.00 L81.80,271.40 Z M119.90,276.00 L125.00,282.60 L119.90,289.20 L114.80,282.60 Z M152.90,281.50 L158.00,288.10 L152.90,294.70 L147.80,288.10 Z M185.90,285.00 L191.00,291.60 L185.90,298.20 L180.80,291.60 Z" fill="none" stroke="#2a7abf" stroke-width="1.3"/>
<path d="M53.90,228.60 L59.00,235.20 L53.90,241.80 L48.80,235.20 Z M86.90,247.60 L92.00,254.20 L86.90,260.80 L81.80,254.20 Z M119.90,255.70 L125.00,262.30 L119.90,268.90 L114.80,262.30 Z M152.90,260.10 L158.00,266.70 L152.90,273.30 L147.80,266.70 Z M185.90,265.30 L191.00,271.90 L185.90,278.50 L180.80,271.90 Z" fill="none" stroke="#72a83f" stroke-width="1.3"/>
<g fill="#a21d38"><circle cx="53.90" cy="244.10" r="2.75"/><circle cx="58.85" cy="257.50" r="2.75"/><circle cx="63.80" cy="270.00" r="2.75"/><circle cx="68.75" cy="281.60" r="2.75"/><circle cx="73.70" cy="292.30" r="2.75"/><circle cx="78.65" cy="301.60" r="2.75"/><circle cx="83.60" cy="309.50" r="2.75"/><circle cx="88.55" cy="316.50" r="2.75"/><circle cx="93.50" cy="322.30" r="2.75"/><circle cx="98.45" cy="327.50" r="2.75"/><circle cx="103.40" cy="332.50" r="2.75"/><circle cx="108.35" cy="337.10" r="2.75"/><circle cx="113.30" cy="341.00" r="2.75"/><circle cx="118.25" cy="344.40" r="2.75"/><circle cx="123.20" cy="347.50" r="2.75"/><circle cx="128.15" cy="350.30" r="2.75"/><circle cx="133.10" cy="353.00" r="2.75"/><circle cx="138.05" cy="355.50" r="2.75"/><circle cx="143.00" cy="358.00" r="2.75"/><circle cx="147.95" cy="360.30" r="2.75"/><circle cx="152.90" cy="362.40" r="2.75"/><circle cx="157.85" cy="364.50" r="2.75"/><circle cx="162.80" cy="366.60" r="2.75"/><circle cx="167.75" cy="368.50" r="2.75"/><circle cx="172.70" cy="370.20" r="2.75"/><circle cx="177.65" cy="371.80" r="2.75"/><circle cx="182.60" cy="373.30" r="2.75"/><circle cx="187.55" cy="374.60" r="2.75"/><circle cx="192.50" cy="375.80" r="2.75"/><circle cx="197.45" cy="376.90" r="2.75"/><circle cx="202.40" cy="377.90" r="2.75"/></g>
<g fill="#2a7abf"><circle cx="53.90" cy="242.60" r="2.75"/><circle cx="58.85" cy="250.10" r="2.75"/><circle cx="63.80" cy="257.00" r="2.75"/><circle cx="68.75" cy="263.00" r="2.75"/><circle cx="73.70" cy="267.90" r="2.75"/><circle cx="78.65" cy="272.10" r="2.75"/><circle cx="83.60" cy="275.60" r="2.75"/><circle cx="88.55" cy="278.00" r="2.75"/><circle cx="93.50" cy="280.50" r="2.75"/><circle cx="98.45" cy="282.30" r="2.75"/><circle cx="103.40" cy="284.00" r="2.75"/><circle cx="108.35" cy="285.80" r="2.75"/><circle cx="113.30" cy="287.20" r="2.75"/><circle cx="118.25" cy="288.60" r="2.75"/><circle cx="123.20" cy="289.70" r="2.75"/><circle cx="128.15" cy="290.50" r="2.75"/><circle cx="133.10" cy="291.70" r="2.75"/><circle cx="138.05" cy="292.60" r="2.75"/><circle cx="143.00" cy="293.33" r="2.75"/><circle cx="147.95" cy="293.99" r="2.75"/><circle cx="152.90" cy="294.60" r="2.75"/><circle cx="157.85" cy="295.19" r="2.75"/><circle cx="162.80" cy="295.76" r="2.75"/><circle cx="167.75" cy="296.31" r="2.75"/><circle cx="172.70" cy="296.82" r="2.75"/><circle cx="177.65" cy="297.30" r="2.75"/><circle cx="182.60" cy="297.75" r="2.75"/><circle cx="187.55" cy="298.18" r="2.75"/><circle cx="192.50" cy="298.58" r="2.75"/><circle cx="197.45" cy="298.95" r="2.75"/><circle cx="202.40" cy="299.30" r="2.75"/></g>
<g fill="#72a83f"><circle cx="53.90" cy="241.00" r="2.75"/><circle cx="58.85" cy="244.70" r="2.75"/><circle cx="63.80" cy="248.40" r="2.75"/><circle cx="68.75" cy="251.20" r="2.75"/><circle cx="73.70" cy="254.20" r="2.75"/><circle cx="78.65" cy="257.00" r="2.75"/><circle cx="83.60" cy="259.10" r="2.75"/><circle cx="88.55" cy="260.90" r="2.75"/><circle cx="93.50" cy="262.60" r="2.75"/><circle cx="98.45" cy="264.00" r="2.75"/><circle cx="103.40" cy="265.40" r="2.75"/><circle cx="108.35" cy="266.80" r="2.75"/><circle cx="113.30" cy="267.80" r="2.75"/><circle cx="118.25" cy="268.90" r="2.75"/><circle cx="123.20" cy="269.70" r="2.75"/><circle cx="128.15" cy="270.70" r="2.75"/><circle cx="133.10" cy="271.40" r="2.75"/><circle cx="138.05" cy="272.40" r="2.75"/><circle cx="143.00" cy="273.12" r="2.75"/><circle cx="147.95" cy="273.72" r="2.75"/><circle cx="152.90" cy="274.30" r="2.75"/><circle cx="157.85" cy="274.91" r="2.75"/><circle cx="162.80" cy="275.51" r="2.75"/><circle cx="167.75" cy="276.10" r="2.75"/><circle cx="172.70" cy="276.67" r="2.75"/><circle cx="177.65" cy="277.20" r="2.75"/><circle cx="182.60" cy="277.70" r="2.75"/><circle cx="187.55" cy="278.19" r="2.75"/><circle cx="192.50" cy="278.65" r="2.75"/><circle cx="197.45" cy="279.09" r="2.75"/><circle cx="202.40" cy="279.50" r="2.75"/></g>
<rect x="37.5" y="231.5" width="181.00" height="166.00" fill="none" stroke="#262626" stroke-width="1.1"/>
<rect x="37.5" y="354.5" width="78.00" height="43.00" fill="#fff" stroke="#8a8a8a" stroke-width="0.9"/>
<line x1="37.5" y1="397.5" x2="115.5" y2="397.5" stroke="#262626" stroke-width="1.1"/>
<line x1="37.5" y1="354.5" x2="37.5" y2="397.5" stroke="#262626" stroke-width="1.1"/>
<circle cx="45.20" cy="363.30" r="3.0" fill="#a21d38"/>
<path d="M55.70,358.30 L59.30,363.30 L55.70,368.30 L52.10,363.30 Z" fill="none" stroke="#a21d38" stroke-width="1.2"/>
<text x="64.30" y="366.40" font-size="9" text-anchor="start" font-weight="normal" font-style="normal" fill="#222" ><tspan font-family="Liberation Serif" font-style="italic">&#952;</tspan> = 0 rad</text>
<circle cx="45.20" cy="376.20" r="3.0" fill="#2a7abf"/>
<path d="M55.70,371.20 L59.30,376.20 L55.70,381.20 L52.10,376.20 Z" fill="none" stroke="#2a7abf" stroke-width="1.2"/>
<text x="64.30" y="379.30" font-size="9" text-anchor="start" font-weight="normal" font-style="normal" fill="#222" ><tspan font-family="Liberation Serif" font-style="italic">&#952;</tspan> = 0.1 rad</text>
<circle cx="45.20" cy="388.80" r="3.0" fill="#72a83f"/>
<path d="M55.70,383.80 L59.30,388.80 L55.70,393.80 L52.10,388.80 Z" fill="none" stroke="#72a83f" stroke-width="1.2"/>
<text x="64.30" y="391.90" font-size="9" text-anchor="start" font-weight="normal" font-style="normal" fill="#222" ><tspan font-family="Liberation Serif" font-style="italic">&#952;</tspan> = 0.2 rad</text>
<text x="53.60" y="411.20" font-size="10.1" text-anchor="middle" font-weight="normal" font-style="normal" fill="#262626" >10</text>
<text x="103.00" y="411.20" font-size="10.1" text-anchor="middle" font-weight="normal" font-style="normal" fill="#262626" >40</text>
<text x="152.50" y="411.20" font-size="10.1" text-anchor="middle" font-weight="normal" font-style="normal" fill="#262626" >70</text>
<text x="202.30" y="411.20" font-size="10.1" text-anchor="middle" font-weight="normal" font-style="normal" fill="#262626" >100</text>
<text x="32.40" y="251.90" font-size="10.1" text-anchor="end" font-weight="normal" font-style="normal" fill="#262626" >10<tspan font-size="6.8" dy="-4.3">6</tspan></text>
<text x="32.40" y="397.40" font-size="10.1" text-anchor="end" font-weight="normal" font-style="normal" fill="#262626" >10<tspan font-size="6.8" dy="-4.3">5</tspan></text>
<text x="124.70" y="426.50" font-size="10.2" text-anchor="middle" font-weight="normal" font-style="normal" fill="#262626" ><tspan font-style="italic">L</tspan><tspan font-size="6.6" dy="2.3">s</tspan><tspan dy="-2.3"> (&#956;m)</tspan></text>
<text x="0.00" y="0.00" font-size="9.9" text-anchor="middle" font-weight="normal" font-style="normal" fill="#262626" transform="translate(8.4,313.9) rotate(-90)"><tspan font-style="italic">f</tspan><tspan font-size="6.6" dy="2.3">0</tspan><tspan dy="-2.3"> (Hz)</tspan></text>
<path d="M266.5,397.41 h1.5 M447.5,397.41 h-1.5 M266.5,387.31 h1.5 M447.5,387.31 h-1.5 M266.5,378.77 h1.5 M447.5,378.77 h-1.5 M266.5,371.37 h1.5 M447.5,371.37 h-1.5 M266.5,364.84 h1.5 M447.5,364.84 h-1.5 M266.5,359.00 h2.6 M447.5,359.00 h-2.6 M266.5,320.59 h1.5 M447.5,320.59 h-1.5 M266.5,298.12 h1.5 M447.5,298.12 h-1.5 M266.5,282.18 h1.5 M447.5,282.18 h-1.5 M266.5,269.81 h1.5 M447.5,269.81 h-1.5 M266.5,259.71 h1.5 M447.5,259.71 h-1.5 M266.5,251.17 h1.5 M447.5,251.17 h-1.5 M266.5,243.77 h1.5 M447.5,243.77 h-1.5 M266.5,237.24 h1.5 M447.5,237.24 h-1.5 M282.16,231.5 v2.6 M331.82,231.5 v2.6 M381.49,231.5 v2.6 M431.16,231.5 v2.6 M282.16,397.5 v-2.6 M331.82,397.5 v-2.6 M381.49,397.5 v-2.6 M431.16,397.5 v-2.6" stroke="#262626" stroke-width="0.9" fill="none"/>
<path d="M282.16,264.00 L287.26,270.60 L282.16,277.20 L277.06,270.60 Z M315.27,313.20 L320.37,319.80 L315.27,326.40 L310.17,319.80 Z M348.38,342.90 L353.48,349.50 L348.38,356.10 L343.28,349.50 Z M381.49,356.00 L386.59,362.60 L381.49,369.20 L376.39,362.60 Z M414.60,372.80 L419.70,379.40 L414.60,386.00 L409.50,379.40 Z" fill="none" stroke="#a21d38" stroke-width="1.3"/>
<path d="M282.16,268.20 L287.26,274.80 L282.16,281.40 L277.06,274.80 Z M315.27,266.70 L320.37,273.30 L315.27,279.90 L310.17,273.30 Z M348.38,262.90 L353.48,269.50 L348.38,276.10 L343.28,269.50 Z M381.49,265.00 L386.59,271.60 L381.49,278.20 L376.39,271.60 Z M414.60,254.80 L419.70,261.40 L414.60,268.00 L409.50,261.40 Z" fill="none" stroke="#2a7abf" stroke-width="1.3"/>
<path d="M282.16,265.20 L287.26,271.80 L282.16,278.40 L277.06,271.80 Z M315.27,253.70 L320.37,260.30 L315.27,266.90 L310.17,260.30 Z M348.38,247.50 L353.48,254.10 L348.38,260.70 L343.28,254.10 Z M381.49,245.00 L386.59,251.60 L381.49,258.20 L376.39,251.60 Z M414.60,237.70 L419.70,244.30 L414.60,250.90 L409.50,244.30 Z" fill="none" stroke="#72a83f" stroke-width="1.3"/>
<g fill="#a21d38"><circle cx="282.16" cy="271.00" r="2.75"/><circle cx="287.12" cy="276.30" r="2.75"/><circle cx="292.09" cy="283.00" r="2.75"/><circle cx="297.06" cy="290.90" r="2.75"/><circle cx="302.02" cy="299.30" r="2.75"/><circle cx="306.99" cy="307.70" r="2.75"/><circle cx="311.96" cy="315.00" r="2.75"/><circle cx="316.92" cy="321.90" r="2.75"/><circle cx="321.89" cy="328.20" r="2.75"/><circle cx="326.86" cy="333.80" r="2.75"/><circle cx="331.82" cy="338.60" r="2.75"/><circle cx="336.79" cy="343.20" r="2.75"/><circle cx="341.76" cy="347.40" r="2.75"/><circle cx="346.72" cy="350.70" r="2.75"/><circle cx="351.69" cy="354.20" r="2.75"/><circle cx="356.66" cy="357.30" r="2.75"/><circle cx="361.62" cy="360.10" r="2.75"/><circle cx="366.59" cy="362.70" r="2.75"/><circle cx="371.56" cy="365.10" r="2.75"/><circle cx="376.53" cy="367.40" r="2.75"/><circle cx="381.49" cy="369.70" r="2.75"/><circle cx="386.46" cy="371.80" r="2.75"/><circle cx="391.43" cy="373.60" r="2.75"/><circle cx="396.39" cy="375.20" r="2.75"/><circle cx="401.36" cy="376.80" r="2.75"/><circle cx="406.33" cy="378.40" r="2.75"/><circle cx="411.29" cy="380.00" r="2.75"/><circle cx="416.26" cy="381.30" r="2.75"/><circle cx="421.23" cy="382.60" r="2.75"/><circle cx="426.19" cy="383.80" r="2.75"/><circle cx="431.16" cy="385.00" r="2.75"/></g>
<g fill="#2a7abf"><circle cx="282.16" cy="270.60" r="2.75"/><circle cx="287.12" cy="269.60" r="2.75"/><circle cx="292.09" cy="269.90" r="2.75"/><circle cx="297.06" cy="270.30" r="2.75"/><circle cx="302.02" cy="270.60" r="2.75"/><circle cx="306.99" cy="270.80" r="2.75"/><circle cx="311.96" cy="270.90" r="2.75"/><circle cx="316.92" cy="270.80" r="2.75"/><circle cx="321.89" cy="270.60" r="2.75"/><circle cx="326.86" cy="270.30" r="2.75"/><circle cx="331.82" cy="270.00" r="2.75"/><circle cx="336.79" cy="269.76" r="2.75"/><circle cx="341.76" cy="269.50" r="2.75"/><circle cx="346.72" cy="269.13" r="2.75"/><circle cx="351.69" cy="268.70" r="2.75"/><circle cx="356.66" cy="268.27" r="2.75"/><circle cx="361.62" cy="267.81" r="2.75"/><circle cx="366.59" cy="267.30" r="2.75"/><circle cx="371.56" cy="266.67" r="2.75"/><circle cx="376.53" cy="265.96" r="2.75"/><circle cx="381.49" cy="265.25" r="2.75"/><circle cx="386.46" cy="264.62" r="2.75"/><circle cx="391.43" cy="264.02" r="2.75"/><circle cx="396.39" cy="263.44" r="2.75"/><circle cx="401.36" cy="262.86" r="2.75"/><circle cx="406.33" cy="262.28" r="2.75"/><circle cx="411.29" cy="261.69" r="2.75"/><circle cx="416.26" cy="261.09" r="2.75"/><circle cx="421.23" cy="260.49" r="2.75"/><circle cx="426.19" cy="259.90" r="2.75"/><circle cx="431.16" cy="259.30" r="2.75"/></g>
<g fill="#72a83f"><circle cx="282.16" cy="268.30" r="2.75"/><circle cx="287.12" cy="265.10" r="2.75"/><circle cx="292.09" cy="262.20" r="2.75"/><circle cx="297.06" cy="260.10" r="2.75"/><circle cx="302.02" cy="258.10" r="2.75"/><circle cx="306.99" cy="256.50" r="2.75"/><circle cx="311.96" cy="254.90" r="2.75"/><circle cx="316.92" cy="253.60" r="2.75"/><circle cx="321.89" cy="252.40" r="2.75"/><circle cx="326.86" cy="251.30" r="2.75"/><circle cx="331.82" cy="250.30" r="2.75"/><circle cx="336.79" cy="249.20" r="2.75"/><circle cx="341.76" cy="248.40" r="2.75"/><circle cx="346.72" cy="247.60" r="2.75"/><circle cx="351.69" cy="246.90" r="2.75"/><circle cx="356.66" cy="246.10" r="2.75"/><circle cx="361.62" cy="245.40" r="2.75"/><circle cx="366.59" cy="244.70" r="2.75"/><circle cx="371.56" cy="244.06" r="2.75"/><circle cx="376.53" cy="243.45" r="2.75"/><circle cx="381.49" cy="242.84" r="2.75"/><circle cx="386.46" cy="242.21" r="2.75"/><circle cx="391.43" cy="241.57" r="2.75"/><circle cx="396.39" cy="240.92" r="2.75"/><circle cx="401.36" cy="240.28" r="2.75"/><circle cx="406.33" cy="239.68" r="2.75"/><circle cx="411.29" cy="239.10" r="2.75"/><circle cx="416.26" cy="238.55" r="2.75"/><circle cx="421.23" cy="238.01" r="2.75"/><circle cx="426.19" cy="237.50" r="2.75"/><circle cx="431.16" cy="237.00" r="2.75"/></g>
<rect x="266.5" y="231.5" width="181.00" height="166.00" fill="none" stroke="#262626" stroke-width="1.1"/>
<rect x="266.5" y="355.5" width="78.00" height="42.00" fill="#fff" stroke="#8a8a8a" stroke-width="0.9"/>
<line x1="266.5" y1="397.5" x2="344.5" y2="397.5" stroke="#262626" stroke-width="1.1"/>
<line x1="266.5" y1="355.5" x2="266.5" y2="397.5" stroke="#262626" stroke-width="1.1"/>
<circle cx="274.20" cy="364.10" r="3.0" fill="#a21d38"/>
<path d="M284.70,359.10 L288.30,364.10 L284.70,369.10 L281.10,364.10 Z" fill="none" stroke="#a21d38" stroke-width="1.2"/>
<text x="293.30" y="367.20" font-size="9" text-anchor="start" font-weight="normal" font-style="normal" fill="#222" ><tspan font-family="Liberation Serif" font-style="italic">&#952;</tspan> = 0 rad</text>
<circle cx="274.20" cy="377.10" r="3.0" fill="#2a7abf"/>
<path d="M284.70,372.10 L288.30,377.10 L284.70,382.10 L281.10,377.10 Z" fill="none" stroke="#2a7abf" stroke-width="1.2"/>
<text x="293.30" y="380.20" font-size="9" text-anchor="start" font-weight="normal" font-style="normal" fill="#222" ><tspan font-family="Liberation Serif" font-style="italic">&#952;</tspan> = 0.1 rad</text>
<circle cx="274.20" cy="390.20" r="3.0" fill="#72a83f"/>
<path d="M284.70,385.20 L288.30,390.20 L284.70,395.20 L281.10,390.20 Z" fill="none" stroke="#72a83f" stroke-width="1.2"/>
<text x="293.30" y="393.30" font-size="9" text-anchor="start" font-weight="normal" font-style="normal" fill="#222" ><tspan font-family="Liberation Serif" font-style="italic">&#952;</tspan> = 0.2 rad</text>
<text x="285.00" y="411.80" font-size="10.1" text-anchor="middle" font-weight="normal" font-style="normal" fill="#262626" >10</text>
<text x="333.60" y="411.80" font-size="10.1" text-anchor="middle" font-weight="normal" font-style="normal" fill="#262626" >40</text>
<text x="382.00" y="411.80" font-size="10.1" text-anchor="middle" font-weight="normal" font-style="normal" fill="#262626" >70</text>
<text x="430.80" y="411.80" font-size="10.1" text-anchor="middle" font-weight="normal" font-style="normal" fill="#262626" >100</text>
<text x="261.00" y="237.10" font-size="10.1" text-anchor="end" font-weight="normal" font-style="normal" fill="#262626" >10<tspan font-size="6.8" dy="-4.3">6</tspan></text>
<text x="261.00" y="367.90" font-size="10.1" text-anchor="end" font-weight="normal" font-style="normal" fill="#262626" >10<tspan font-size="6.8" dy="-4.3">5</tspan></text>
<text x="349.50" y="427.00" font-size="10.2" text-anchor="middle" font-weight="normal" font-style="normal" fill="#262626" ><tspan font-style="italic">L</tspan><tspan font-size="6.6" dy="2.3">s</tspan><tspan dy="-2.3"> (&#956;m)</tspan></text>
<text x="0.00" y="0.00" font-size="9.9" text-anchor="middle" font-weight="normal" font-style="normal" fill="#262626" transform="translate(237.2,313.7) rotate(-90)"><tspan font-style="italic">Q</tspan></text>
<path d="M503.5,398.50 h2.6 M680.5,398.50 h-2.6 M503.5,373.51 h1.5 M680.5,373.51 h-1.5 M503.5,358.90 h1.5 M680.5,358.90 h-1.5 M503.5,348.53 h1.5 M680.5,348.53 h-1.5 M503.5,340.49 h1.5 M680.5,340.49 h-1.5 M503.5,333.91 h1.5 M680.5,333.91 h-1.5 M503.5,328.36 h1.5 M680.5,328.36 h-1.5 M503.5,323.54 h1.5 M680.5,323.54 h-1.5 M503.5,319.30 h1.5 M680.5,319.30 h-1.5 M503.5,315.50 h2.6 M680.5,315.50 h-2.6 M503.5,290.51 h1.5 M680.5,290.51 h-1.5 M503.5,275.90 h1.5 M680.5,275.90 h-1.5 M503.5,265.53 h1.5 M680.5,265.53 h-1.5 M503.5,257.49 h1.5 M680.5,257.49 h-1.5 M503.5,250.91 h1.5 M680.5,250.91 h-1.5 M503.5,245.36 h1.5 M680.5,245.36 h-1.5 M503.5,240.54 h1.5 M680.5,240.54 h-1.5 M503.5,236.30 h1.5 M680.5,236.30 h-1.5 M503.5,232.50 h2.6 M680.5,232.50 h-2.6 M519.17,232.5 v2.6 M568.58,232.5 v2.6 M617.99,232.5 v2.6 M667.40,232.5 v2.6 M519.17,399.5 v-2.6 M568.58,399.5 v-2.6 M617.99,399.5 v-2.6 M667.40,399.5 v-2.6" stroke="#262626" stroke-width="0.9" fill="none"/>
<path d="M519.17,232.20 L524.27,238.80 L519.17,245.40 L514.07,238.80 Z M552.11,308.40 L557.21,315.00 L552.11,321.60 L547.01,315.00 Z M585.05,345.00 L590.15,351.60 L585.05,358.20 L579.95,351.60 Z M617.99,366.60 L623.09,373.20 L617.99,379.80 L612.89,373.20 Z M650.93,379.40 L656.03,386.00 L650.93,392.60 L645.83,386.00 Z" fill="none" stroke="#a21d38" stroke-width="1.3"/>
<path d="M519.17,241.20 L524.27,247.80 L519.17,254.40 L514.07,247.80 Z M552.11,290.40 L557.21,297.00 L552.11,303.60 L547.01,297.00 Z M585.05,320.90 L590.15,327.50 L585.05,334.10 L579.95,327.50 Z M617.99,333.50 L623.09,340.10 L617.99,346.70 L612.89,340.10 Z M650.93,342.90 L656.03,349.50 L650.93,356.10 L645.83,349.50 Z" fill="none" stroke="#2a7abf" stroke-width="1.3"/>
<path d="M519.17,234.90 L524.27,241.50 L519.17,248.10 L514.07,241.50 Z M552.11,267.40 L557.21,274.00 L552.11,280.60 L547.01,274.00 Z M585.05,290.60 L590.15,297.20 L585.05,303.80 L579.95,297.20 Z M617.99,304.20 L623.09,310.80 L617.99,317.40 L612.89,310.80 Z M650.93,316.70 L656.03,323.30 L650.93,329.90 L645.83,323.30 Z" fill="none" stroke="#72a83f" stroke-width="1.3"/>
<g fill="#a21d38"><circle cx="519.17" cy="240.80" r="2.75"/><circle cx="524.11" cy="253.40" r="2.75"/><circle cx="529.05" cy="266.00" r="2.75"/><circle cx="533.99" cy="278.80" r="2.75"/><circle cx="538.93" cy="290.10" r="2.75"/><circle cx="543.88" cy="300.10" r="2.75"/><circle cx="548.82" cy="309.60" r="2.75"/><circle cx="553.76" cy="317.20" r="2.75"/><circle cx="558.70" cy="325.10" r="2.75"/><circle cx="563.64" cy="331.40" r="2.75"/><circle cx="568.58" cy="337.20" r="2.75"/><circle cx="573.52" cy="342.50" r="2.75"/><circle cx="578.46" cy="347.60" r="2.75"/><circle cx="583.40" cy="351.60" r="2.75"/><circle cx="588.34" cy="355.80" r="2.75"/><circle cx="593.28" cy="359.70" r="2.75"/><circle cx="598.23" cy="363.20" r="2.75"/><circle cx="603.17" cy="366.20" r="2.75"/><circle cx="608.11" cy="369.30" r="2.75"/><circle cx="613.05" cy="372.00" r="2.75"/><circle cx="617.99" cy="374.80" r="2.75"/><circle cx="622.93" cy="377.60" r="2.75"/><circle cx="627.87" cy="380.20" r="2.75"/><circle cx="632.81" cy="382.50" r="2.75"/><circle cx="637.75" cy="384.70" r="2.75"/><circle cx="642.69" cy="386.50" r="2.75"/><circle cx="647.64" cy="388.30" r="2.75"/><circle cx="652.58" cy="390.10" r="2.75"/><circle cx="657.52" cy="391.70" r="2.75"/><circle cx="662.46" cy="393.00" r="2.75"/><circle cx="667.40" cy="394.10" r="2.75"/></g>
<g fill="#2a7abf"><circle cx="519.17" cy="241.50" r="2.75"/><circle cx="524.11" cy="249.90" r="2.75"/><circle cx="529.05" cy="258.30" r="2.75"/><circle cx="533.99" cy="266.80" r="2.75"/><circle cx="538.93" cy="274.40" r="2.75"/><circle cx="543.88" cy="280.60" r="2.75"/><circle cx="548.82" cy="286.90" r="2.75"/><circle cx="553.76" cy="292.40" r="2.75"/><circle cx="558.70" cy="297.40" r="2.75"/><circle cx="563.64" cy="302.20" r="2.75"/><circle cx="568.58" cy="306.40" r="2.75"/><circle cx="573.52" cy="310.20" r="2.75"/><circle cx="578.46" cy="313.50" r="2.75"/><circle cx="583.40" cy="316.06" r="2.75"/><circle cx="588.34" cy="318.83" r="2.75"/><circle cx="593.28" cy="321.79" r="2.75"/><circle cx="598.23" cy="324.76" r="2.75"/><circle cx="603.17" cy="327.56" r="2.75"/><circle cx="608.11" cy="330.09" r="2.75"/><circle cx="613.05" cy="332.47" r="2.75"/><circle cx="617.99" cy="334.73" r="2.75"/><circle cx="622.93" cy="336.88" r="2.75"/><circle cx="627.87" cy="338.93" r="2.75"/><circle cx="632.81" cy="340.86" r="2.75"/><circle cx="637.75" cy="342.66" r="2.75"/><circle cx="642.69" cy="344.40" r="2.75"/><circle cx="647.64" cy="346.15" r="2.75"/><circle cx="652.58" cy="347.95" r="2.75"/><circle cx="657.52" cy="349.78" r="2.75"/><circle cx="662.46" cy="351.63" r="2.75"/><circle cx="667.40" cy="353.49" r="2.75"/></g>
<g fill="#72a83f"><circle cx="519.17" cy="239.30" r="2.75"/><circle cx="524.11" cy="245.10" r="2.75"/><circle cx="529.05" cy="251.60" r="2.75"/><circle cx="533.99" cy="257.20" r="2.75"/><circle cx="538.93" cy="262.40" r="2.75"/><circle cx="543.88" cy="267.00" r="2.75"/><circle cx="548.82" cy="271.20" r="2.75"/><circle cx="553.76" cy="275.00" r="2.75"/><circle cx="558.70" cy="278.60" r="2.75"/><circle cx="563.64" cy="281.90" r="2.75"/><circle cx="568.58" cy="284.80" r="2.75"/><circle cx="573.52" cy="287.80" r="2.75"/><circle cx="578.46" cy="290.50" r="2.75"/><circle cx="583.40" cy="292.90" r="2.75"/><circle cx="588.34" cy="295.40" r="2.75"/><circle cx="593.28" cy="297.70" r="2.75"/><circle cx="598.23" cy="299.80" r="2.75"/><circle cx="603.17" cy="301.80" r="2.75"/><circle cx="608.11" cy="303.82" r="2.75"/><circle cx="613.05" cy="305.88" r="2.75"/><circle cx="617.99" cy="307.92" r="2.75"/><circle cx="622.93" cy="309.89" r="2.75"/><circle cx="627.87" cy="311.74" r="2.75"/><circle cx="632.81" cy="313.44" r="2.75"/><circle cx="637.75" cy="315.03" r="2.75"/><circle cx="642.69" cy="316.56" r="2.75"/><circle cx="647.64" cy="318.10" r="2.75"/><circle cx="652.58" cy="319.68" r="2.75"/><circle cx="657.52" cy="321.29" r="2.75"/><circle cx="662.46" cy="322.91" r="2.75"/><circle cx="667.40" cy="324.53" r="2.75"/></g>
<rect x="503.5" y="232.5" width="177.00" height="167.00" fill="none" stroke="#262626" stroke-width="1.1"/>
<rect x="503.5" y="356.5" width="77.50" height="43.00" fill="#fff" stroke="#8a8a8a" stroke-width="0.9"/>
<line x1="503.5" y1="399.5" x2="581.0" y2="399.5" stroke="#262626" stroke-width="1.1"/>
<line x1="503.5" y1="356.5" x2="503.5" y2="399.5" stroke="#262626" stroke-width="1.1"/>
<circle cx="511.20" cy="364.70" r="3.0" fill="#a21d38"/>
<path d="M521.70,359.70 L525.30,364.70 L521.70,369.70 L518.10,364.70 Z" fill="none" stroke="#a21d38" stroke-width="1.2"/>
<text x="530.30" y="367.80" font-size="9" text-anchor="start" font-weight="normal" font-style="normal" fill="#222" ><tspan font-family="Liberation Serif" font-style="italic">&#952;</tspan> = 0 rad</text>
<circle cx="511.20" cy="377.90" r="3.0" fill="#2a7abf"/>
<path d="M521.70,372.90 L525.30,377.90 L521.70,382.90 L518.10,377.90 Z" fill="none" stroke="#2a7abf" stroke-width="1.2"/>
<text x="530.30" y="381.00" font-size="9" text-anchor="start" font-weight="normal" font-style="normal" fill="#222" ><tspan font-family="Liberation Serif" font-style="italic">&#952;</tspan> = 0.1 rad</text>
<circle cx="511.20" cy="390.90" r="3.0" fill="#72a83f"/>
<path d="M521.70,385.90 L525.30,390.90 L521.70,395.90 L518.10,390.90 Z" fill="none" stroke="#72a83f" stroke-width="1.2"/>
<text x="530.30" y="394.00" font-size="9" text-anchor="start" font-weight="normal" font-style="normal" fill="#222" ><tspan font-family="Liberation Serif" font-style="italic">&#952;</tspan> = 0.2 rad</text>
<text x="519.60" y="410.70" font-size="10.1" text-anchor="middle" font-weight="normal" font-style="normal" fill="#262626" >10</text>
<text x="568.90" y="410.70" font-size="10.1" text-anchor="middle" font-weight="normal" font-style="normal" fill="#262626" >40</text>
<text x="618.30" y="410.70" font-size="10.1" text-anchor="middle" font-weight="normal" font-style="normal" fill="#262626" >70</text>
<text x="667.40" y="410.70" font-size="10.1" text-anchor="middle" font-weight="normal" font-style="normal" fill="#262626" >100</text>
<text x="497.80" y="236.90" font-size="10.1" text-anchor="end" font-weight="normal" font-style="normal" fill="#262626" >10<tspan font-size="6.8" dy="-4.3">24</tspan></text>
<text x="497.80" y="319.70" font-size="10.1" text-anchor="end" font-weight="normal" font-style="normal" fill="#262626" >10<tspan font-size="6.8" dy="-4.3">23</tspan></text>
<text x="497.80" y="401.40" font-size="10.1" text-anchor="end" font-weight="normal" font-style="normal" fill="#262626" >10<tspan font-size="6.8" dy="-4.3">22</tspan></text>
<text x="594.00" y="426.50" font-size="10.2" text-anchor="middle" font-weight="normal" font-style="normal" fill="#262626" ><tspan font-style="italic">L</tspan><tspan font-size="6.6" dy="2.3">s</tspan><tspan dy="-2.3"> (&#956;m)</tspan></text>
<text x="0.00" y="0.00" font-size="9.9" text-anchor="middle" font-weight="normal" font-style="normal" fill="#262626" transform="translate(469.5,313.6) rotate(-90)"><tspan font-style="italic" font-family="Liberation Serif">&#946;</tspan> (m<tspan font-size="6.6" dy="-3.6">&#8722;2</tspan><tspan dy="3.6">s</tspan><tspan font-size="6.6" dy="-3.6">&#8722;2</tspan><tspan dy="3.6">)</tspan></text>
</svg>
</body></html>
